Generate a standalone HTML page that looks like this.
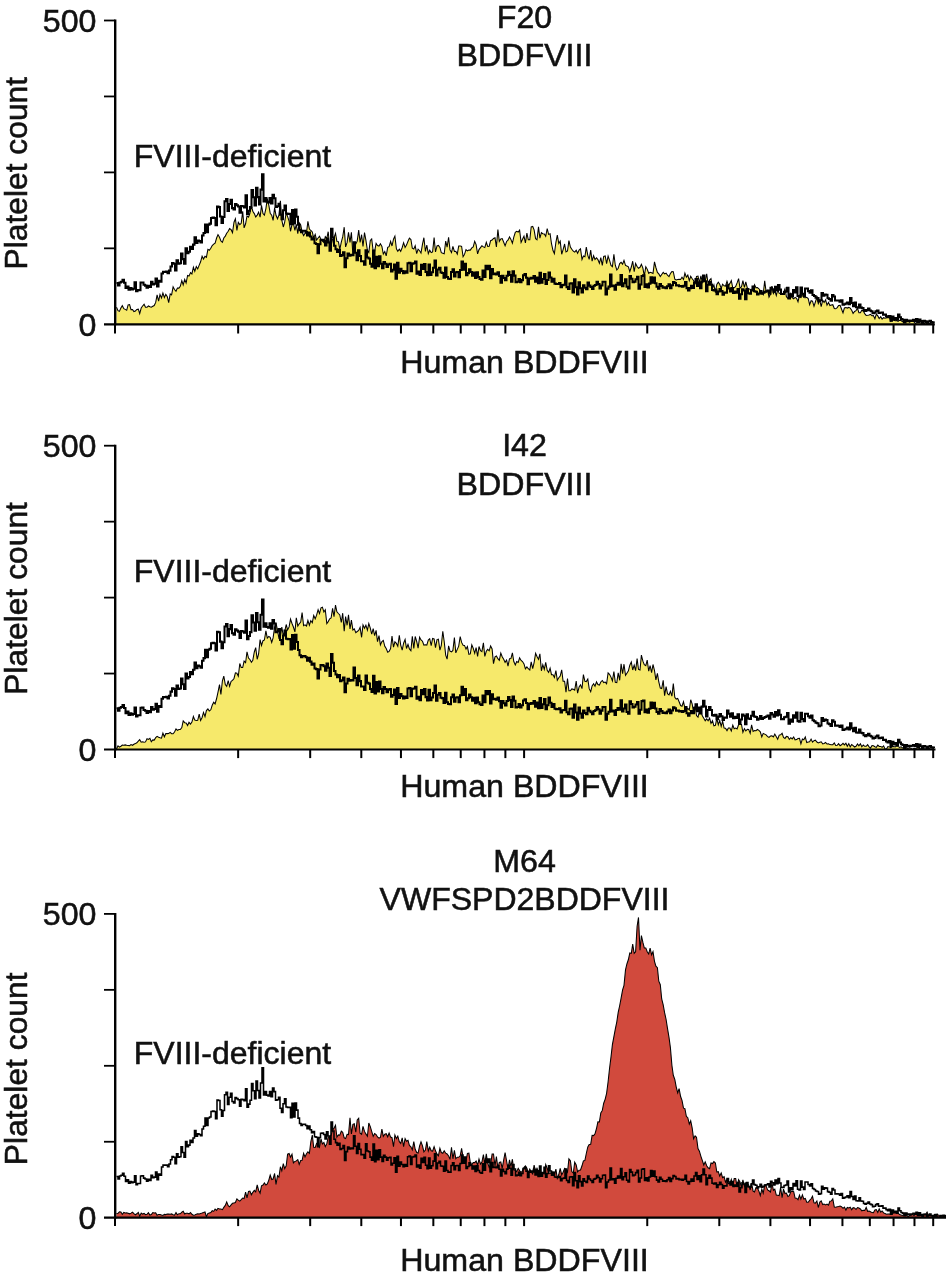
<!DOCTYPE html>
<html lang="en">
<head>
<meta charset="utf-8">
<title>Platelet BDDFVIII flow cytometry histograms</title>
<style>
html,body{margin:0;padding:0;background:#fff;}
body{width:946px;height:1278px;overflow:hidden;}
svg{display:block;will-change:transform;opacity:0.999;}
svg text{font-family:"Liberation Sans", Arial, Helvetica, sans-serif;font-size:32.2px;fill:#111;stroke:#111;stroke-width:0.55px;}
</style>
</head>
<body>
<svg width="946" height="1278" viewBox="0 0 946 1278">
<rect width="946" height="1278" fill="#fff"/>
<g id="panel1">
<path d="M116.5 307.3L118.0 310.7L119.4 311.4L120.9 308.1L122.3 305.7L123.8 308.7L125.2 309.4L126.7 310.3L128.1 304.9L129.6 304.6L131.0 309.6L132.5 309.5L133.9 311.6L135.4 311.0L136.8 309.4L138.3 309.2L139.7 313.7L141.2 308.0L142.6 306.0L144.1 304.3L145.5 307.2L147.0 307.3L148.4 306.0L149.9 306.8L151.3 307.2L152.8 306.3L154.2 305.5L155.7 302.4L157.1 294.9L158.6 301.1L160.0 294.4L161.5 298.0L162.9 293.0L164.4 297.5L165.8 294.3L167.3 296.8L168.7 302.7L170.2 293.9L171.6 294.9L173.1 286.8L174.5 289.5L176.0 291.2L177.4 288.0L178.9 288.1L180.3 286.3L181.8 280.7L183.2 285.0L184.7 279.4L186.1 283.0L187.6 275.5L189.0 276.1L190.5 272.6L191.9 273.9L193.4 267.2L194.8 271.4L196.3 266.6L197.7 268.9L199.2 265.1L200.6 261.8L202.1 256.3L203.5 259.1L205.0 256.3L206.4 257.3L207.9 249.4L209.3 250.3L210.8 248.2L212.2 245.6L213.7 244.2L215.1 243.1L216.6 238.0L218.0 234.6L219.5 237.3L220.9 241.0L222.4 242.3L223.8 238.0L225.3 236.1L226.7 233.2L228.2 231.3L229.6 228.5L231.1 229.7L232.5 232.7L234.0 222.2L235.4 218.7L236.9 230.4L238.3 222.4L239.8 224.6L241.2 223.3L242.7 211.2L244.1 227.9L245.6 223.8L247.0 215.9L248.5 217.2L249.9 213.3L251.4 206.0L252.8 211.2L254.3 213.6L255.7 216.9L257.2 215.1L258.6 212.2L260.1 217.2L261.5 205.4L263.0 213.5L264.4 215.2L265.9 208.6L267.3 198.6L268.8 205.2L270.2 213.2L271.7 215.2L273.1 220.4L274.6 207.7L276.0 215.3L277.5 218.8L278.9 215.2L280.4 200.7L281.8 220.2L283.3 227.0L284.7 222.1L286.2 212.5L287.6 216.6L289.1 221.0L290.5 231.3L292.0 224.5L293.4 223.4L294.9 230.4L296.3 224.4L297.8 233.6L299.2 222.7L300.7 225.0L302.1 232.0L303.6 235.6L305.0 233.4L306.5 232.9L307.9 221.3L309.4 229.0L310.8 230.5L312.3 231.9L313.7 238.0L315.2 234.4L316.6 240.1L318.1 238.0L319.5 236.3L321.0 239.4L322.4 240.8L323.9 242.6L325.3 236.6L326.8 238.3L328.2 231.7L329.7 246.0L331.1 245.6L332.6 239.2L334.0 237.6L335.5 233.3L336.9 241.4L338.4 241.7L339.8 249.4L341.3 242.2L342.7 236.9L344.2 227.2L345.6 246.9L347.1 242.4L348.5 232.3L350.0 242.4L351.4 232.4L352.9 254.9L354.3 246.1L355.8 244.1L357.2 241.1L358.7 230.1L360.1 242.5L361.6 234.7L363.0 246.5L364.5 232.5L365.9 240.2L367.4 250.4L368.8 252.5L370.3 240.4L371.7 238.9L373.2 251.2L374.6 251.5L376.1 243.4L377.5 245.5L379.0 246.0L380.4 243.7L381.9 246.4L383.3 254.1L384.8 251.5L386.2 255.9L387.7 247.4L389.1 246.6L390.6 241.3L392.0 246.0L393.5 239.1L394.9 236.2L396.4 248.8L397.8 251.3L399.3 249.2L400.7 251.3L402.2 247.5L403.6 242.7L405.1 247.4L406.5 245.1L408.0 241.2L409.4 238.1L410.9 239.5L412.3 248.1L413.8 248.9L415.2 245.8L416.7 253.7L418.1 249.2L419.6 250.7L421.0 253.1L422.5 244.1L423.9 237.7L425.4 251.5L426.8 245.0L428.3 253.6L429.7 250.2L431.2 252.6L432.6 251.9L434.1 237.6L435.5 252.0L437.0 245.8L438.4 245.4L439.9 247.4L441.3 252.7L442.8 253.2L444.2 253.8L445.7 241.1L447.1 247.1L448.6 237.3L450.0 249.9L451.5 252.6L452.9 246.3L454.4 251.4L455.8 251.3L457.3 254.1L458.7 245.9L460.2 245.9L461.6 246.3L463.1 256.7L464.5 254.4L466.0 249.6L467.4 250.8L468.9 250.1L470.3 250.1L471.8 247.9L473.2 246.9L474.7 241.4L476.1 244.6L477.6 253.9L479.0 249.6L480.5 247.6L481.9 245.8L483.4 246.9L484.8 247.6L486.3 242.3L487.7 246.4L489.2 246.2L490.6 240.7L492.1 240.1L493.5 238.5L495.0 237.8L496.4 246.9L497.9 229.5L499.3 241.4L500.8 239.0L502.2 238.6L503.7 242.3L505.1 245.8L506.6 241.5L508.0 240.1L509.5 236.9L510.9 239.4L512.4 243.3L513.8 237.2L515.3 232.4L516.7 231.3L518.2 232.0L519.6 230.1L521.1 242.4L522.5 239.3L524.0 236.2L525.4 243.0L526.9 233.2L528.3 239.8L529.8 239.7L531.2 226.8L532.7 226.4L534.1 229.8L535.6 238.6L537.0 239.8L538.5 226.9L539.9 238.1L541.4 232.7L542.8 233.7L544.3 233.9L545.7 236.3L547.2 228.5L548.6 234.4L550.1 233.8L551.5 243.7L553.0 250.5L554.4 253.6L555.9 242.3L557.3 235.1L558.8 243.5L560.2 241.2L561.7 254.3L563.1 249.6L564.6 244.0L566.0 251.9L567.5 251.0L568.9 240.5L570.4 247.1L571.8 249.3L573.3 251.2L574.7 252.1L576.2 250.3L577.6 253.3L579.1 250.0L580.5 248.8L582.0 259.5L583.4 256.0L584.9 256.7L586.3 247.2L587.8 255.3L589.2 259.4L590.7 250.1L592.1 261.1L593.6 255.7L595.0 259.5L596.5 257.8L597.9 259.6L599.4 263.3L600.8 257.6L602.3 265.3L603.7 256.4L605.2 256.0L606.6 263.6L608.1 256.1L609.5 260.1L611.0 265.4L612.4 266.7L613.9 254.2L615.3 265.2L616.8 270.0L618.2 268.2L619.7 263.6L621.1 262.3L622.6 264.2L624.0 260.4L625.5 265.3L626.9 266.1L628.4 266.8L629.8 271.6L631.3 267.0L632.7 261.2L634.2 271.7L635.6 263.4L637.1 266.5L638.5 268.2L640.0 267.3L641.4 264.3L642.9 268.1L644.3 276.2L645.8 266.7L647.2 269.1L648.7 273.3L650.1 272.3L651.6 272.8L653.0 273.4L654.5 261.9L655.9 267.5L657.4 272.4L658.8 273.9L660.3 276.6L661.7 274.5L663.2 272.4L664.6 273.9L666.1 273.2L667.5 275.2L669.0 276.7L670.4 273.5L671.9 271.6L673.3 271.7L674.8 279.1L676.2 279.9L677.7 279.4L679.1 279.3L680.6 279.5L682.0 277.3L683.5 279.5L684.9 273.2L686.4 277.2L687.8 275.1L689.3 280.7L690.7 276.3L692.2 278.7L693.6 280.5L695.1 283.4L696.5 276.5L698.0 276.1L699.4 282.7L700.9 275.9L702.3 282.2L703.8 278.7L705.2 281.0L706.7 273.9L708.1 283.9L709.6 280.1L711.0 278.7L712.5 288.3L713.9 284.9L715.4 292.6L716.8 284.5L718.3 282.2L719.7 284.2L721.2 288.4L722.6 284.2L724.1 285.8L725.5 286.2L727.0 281.3L728.4 285.6L729.9 283.4L731.3 280.6L732.8 288.2L734.2 287.8L735.7 286.5L737.1 282.9L738.6 278.7L740.0 288.2L741.5 286.8L742.9 280.7L744.4 287.4L745.8 281.8L747.3 287.9L748.7 288.6L750.2 289.4L751.6 289.2L753.1 289.3L754.5 284.7L756.0 287.8L757.4 287.5L758.9 288.8L760.3 290.6L761.8 291.7L763.2 294.4L764.7 280.8L766.1 291.9L767.6 290.5L769.0 297.1L770.5 294.1L771.9 286.1L773.4 293.5L774.8 290.9L776.3 295.5L777.7 289.6L779.2 293.4L780.6 293.7L782.1 294.2L783.5 292.8L785.0 288.8L786.4 296.7L787.9 298.3L789.3 296.2L790.8 293.3L792.2 297.7L793.7 298.8L795.1 297.4L796.6 298.3L798.0 301.7L799.5 295.3L800.9 297.4L802.4 293.3L803.8 297.6L805.3 297.7L806.7 297.3L808.2 298.5L809.6 304.7L811.1 300.7L812.5 301.2L814.0 306.3L815.4 302.0L816.9 297.1L818.3 303.6L819.8 300.3L821.2 306.7L822.7 300.2L824.1 302.5L825.6 299.9L827.0 305.2L828.5 302.4L829.9 305.5L831.4 305.0L832.8 304.7L834.3 308.5L835.7 308.8L837.2 307.6L838.6 305.4L840.1 305.3L841.5 309.0L843.0 312.9L844.4 308.0L845.9 307.5L847.3 308.1L848.8 307.4L850.2 308.1L851.7 310.3L853.1 313.4L854.6 311.5L856.0 310.6L857.5 308.3L858.9 312.7L860.4 312.7L861.8 310.2L863.3 310.9L864.7 313.6L866.2 315.4L867.6 315.2L869.1 314.9L870.5 314.3L872.0 315.8L873.4 315.6L874.9 318.8L876.3 314.1L877.8 315.9L879.2 318.5L880.7 316.7L882.1 319.1L883.6 317.7L885.0 318.2L886.5 317.7L887.9 316.3L889.4 317.3L890.8 321.4L892.3 320.0L893.7 320.2L895.2 320.8L896.6 320.6L898.1 321.3L899.5 320.2L901.0 320.5L902.4 321.9L903.9 320.7L905.3 319.7L906.8 321.2L908.2 321.0L909.7 322.3L911.1 321.2L912.6 321.0L914.0 321.9L915.5 323.5L916.9 322.5L918.4 322.8L919.8 322.8L921.3 323.1L922.7 323.6L924.2 324.0L925.6 322.0L927.1 324.1L928.5 323.5L930.0 323.4L931.4 324.1L932.9 323.7L934.3 324.1L934.3 324.3L116.5 324.3Z" fill="#f6e96b" stroke="none"/>
<path d="M116.5 307.3L118.0 310.7L119.4 311.4L120.9 308.1L122.3 305.7L123.8 308.7L125.2 309.4L126.7 310.3L128.1 304.9L129.6 304.6L131.0 309.6L132.5 309.5L133.9 311.6L135.4 311.0L136.8 309.4L138.3 309.2L139.7 313.7L141.2 308.0L142.6 306.0L144.1 304.3L145.5 307.2L147.0 307.3L148.4 306.0L149.9 306.8L151.3 307.2L152.8 306.3L154.2 305.5L155.7 302.4L157.1 294.9L158.6 301.1L160.0 294.4L161.5 298.0L162.9 293.0L164.4 297.5L165.8 294.3L167.3 296.8L168.7 302.7L170.2 293.9L171.6 294.9L173.1 286.8L174.5 289.5L176.0 291.2L177.4 288.0L178.9 288.1L180.3 286.3L181.8 280.7L183.2 285.0L184.7 279.4L186.1 283.0L187.6 275.5L189.0 276.1L190.5 272.6L191.9 273.9L193.4 267.2L194.8 271.4L196.3 266.6L197.7 268.9L199.2 265.1L200.6 261.8L202.1 256.3L203.5 259.1L205.0 256.3L206.4 257.3L207.9 249.4L209.3 250.3L210.8 248.2L212.2 245.6L213.7 244.2L215.1 243.1L216.6 238.0L218.0 234.6L219.5 237.3L220.9 241.0L222.4 242.3L223.8 238.0L225.3 236.1L226.7 233.2L228.2 231.3L229.6 228.5L231.1 229.7L232.5 232.7L234.0 222.2L235.4 218.7L236.9 230.4L238.3 222.4L239.8 224.6L241.2 223.3L242.7 211.2L244.1 227.9L245.6 223.8L247.0 215.9L248.5 217.2L249.9 213.3L251.4 206.0L252.8 211.2L254.3 213.6L255.7 216.9L257.2 215.1L258.6 212.2L260.1 217.2L261.5 205.4L263.0 213.5L264.4 215.2L265.9 208.6L267.3 198.6L268.8 205.2L270.2 213.2L271.7 215.2L273.1 220.4L274.6 207.7L276.0 215.3L277.5 218.8L278.9 215.2L280.4 200.7L281.8 220.2L283.3 227.0L284.7 222.1L286.2 212.5L287.6 216.6L289.1 221.0L290.5 231.3L292.0 224.5L293.4 223.4L294.9 230.4L296.3 224.4L297.8 233.6L299.2 222.7L300.7 225.0L302.1 232.0L303.6 235.6L305.0 233.4L306.5 232.9L307.9 221.3L309.4 229.0L310.8 230.5L312.3 231.9L313.7 238.0L315.2 234.4L316.6 240.1L318.1 238.0L319.5 236.3L321.0 239.4L322.4 240.8L323.9 242.6L325.3 236.6L326.8 238.3L328.2 231.7L329.7 246.0L331.1 245.6L332.6 239.2L334.0 237.6L335.5 233.3L336.9 241.4L338.4 241.7L339.8 249.4L341.3 242.2L342.7 236.9L344.2 227.2L345.6 246.9L347.1 242.4L348.5 232.3L350.0 242.4L351.4 232.4L352.9 254.9L354.3 246.1L355.8 244.1L357.2 241.1L358.7 230.1L360.1 242.5L361.6 234.7L363.0 246.5L364.5 232.5L365.9 240.2L367.4 250.4L368.8 252.5L370.3 240.4L371.7 238.9L373.2 251.2L374.6 251.5L376.1 243.4L377.5 245.5L379.0 246.0L380.4 243.7L381.9 246.4L383.3 254.1L384.8 251.5L386.2 255.9L387.7 247.4L389.1 246.6L390.6 241.3L392.0 246.0L393.5 239.1L394.9 236.2L396.4 248.8L397.8 251.3L399.3 249.2L400.7 251.3L402.2 247.5L403.6 242.7L405.1 247.4L406.5 245.1L408.0 241.2L409.4 238.1L410.9 239.5L412.3 248.1L413.8 248.9L415.2 245.8L416.7 253.7L418.1 249.2L419.6 250.7L421.0 253.1L422.5 244.1L423.9 237.7L425.4 251.5L426.8 245.0L428.3 253.6L429.7 250.2L431.2 252.6L432.6 251.9L434.1 237.6L435.5 252.0L437.0 245.8L438.4 245.4L439.9 247.4L441.3 252.7L442.8 253.2L444.2 253.8L445.7 241.1L447.1 247.1L448.6 237.3L450.0 249.9L451.5 252.6L452.9 246.3L454.4 251.4L455.8 251.3L457.3 254.1L458.7 245.9L460.2 245.9L461.6 246.3L463.1 256.7L464.5 254.4L466.0 249.6L467.4 250.8L468.9 250.1L470.3 250.1L471.8 247.9L473.2 246.9L474.7 241.4L476.1 244.6L477.6 253.9L479.0 249.6L480.5 247.6L481.9 245.8L483.4 246.9L484.8 247.6L486.3 242.3L487.7 246.4L489.2 246.2L490.6 240.7L492.1 240.1L493.5 238.5L495.0 237.8L496.4 246.9L497.9 229.5L499.3 241.4L500.8 239.0L502.2 238.6L503.7 242.3L505.1 245.8L506.6 241.5L508.0 240.1L509.5 236.9L510.9 239.4L512.4 243.3L513.8 237.2L515.3 232.4L516.7 231.3L518.2 232.0L519.6 230.1L521.1 242.4L522.5 239.3L524.0 236.2L525.4 243.0L526.9 233.2L528.3 239.8L529.8 239.7L531.2 226.8L532.7 226.4L534.1 229.8L535.6 238.6L537.0 239.8L538.5 226.9L539.9 238.1L541.4 232.7L542.8 233.7L544.3 233.9L545.7 236.3L547.2 228.5L548.6 234.4L550.1 233.8L551.5 243.7L553.0 250.5L554.4 253.6L555.9 242.3L557.3 235.1L558.8 243.5L560.2 241.2L561.7 254.3L563.1 249.6L564.6 244.0L566.0 251.9L567.5 251.0L568.9 240.5L570.4 247.1L571.8 249.3L573.3 251.2L574.7 252.1L576.2 250.3L577.6 253.3L579.1 250.0L580.5 248.8L582.0 259.5L583.4 256.0L584.9 256.7L586.3 247.2L587.8 255.3L589.2 259.4L590.7 250.1L592.1 261.1L593.6 255.7L595.0 259.5L596.5 257.8L597.9 259.6L599.4 263.3L600.8 257.6L602.3 265.3L603.7 256.4L605.2 256.0L606.6 263.6L608.1 256.1L609.5 260.1L611.0 265.4L612.4 266.7L613.9 254.2L615.3 265.2L616.8 270.0L618.2 268.2L619.7 263.6L621.1 262.3L622.6 264.2L624.0 260.4L625.5 265.3L626.9 266.1L628.4 266.8L629.8 271.6L631.3 267.0L632.7 261.2L634.2 271.7L635.6 263.4L637.1 266.5L638.5 268.2L640.0 267.3L641.4 264.3L642.9 268.1L644.3 276.2L645.8 266.7L647.2 269.1L648.7 273.3L650.1 272.3L651.6 272.8L653.0 273.4L654.5 261.9L655.9 267.5L657.4 272.4L658.8 273.9L660.3 276.6L661.7 274.5L663.2 272.4L664.6 273.9L666.1 273.2L667.5 275.2L669.0 276.7L670.4 273.5L671.9 271.6L673.3 271.7L674.8 279.1L676.2 279.9L677.7 279.4L679.1 279.3L680.6 279.5L682.0 277.3L683.5 279.5L684.9 273.2L686.4 277.2L687.8 275.1L689.3 280.7L690.7 276.3L692.2 278.7L693.6 280.5L695.1 283.4L696.5 276.5L698.0 276.1L699.4 282.7L700.9 275.9L702.3 282.2L703.8 278.7L705.2 281.0L706.7 273.9L708.1 283.9L709.6 280.1L711.0 278.7L712.5 288.3L713.9 284.9L715.4 292.6L716.8 284.5L718.3 282.2L719.7 284.2L721.2 288.4L722.6 284.2L724.1 285.8L725.5 286.2L727.0 281.3L728.4 285.6L729.9 283.4L731.3 280.6L732.8 288.2L734.2 287.8L735.7 286.5L737.1 282.9L738.6 278.7L740.0 288.2L741.5 286.8L742.9 280.7L744.4 287.4L745.8 281.8L747.3 287.9L748.7 288.6L750.2 289.4L751.6 289.2L753.1 289.3L754.5 284.7L756.0 287.8L757.4 287.5L758.9 288.8L760.3 290.6L761.8 291.7L763.2 294.4L764.7 280.8L766.1 291.9L767.6 290.5L769.0 297.1L770.5 294.1L771.9 286.1L773.4 293.5L774.8 290.9L776.3 295.5L777.7 289.6L779.2 293.4L780.6 293.7L782.1 294.2L783.5 292.8L785.0 288.8L786.4 296.7L787.9 298.3L789.3 296.2L790.8 293.3L792.2 297.7L793.7 298.8L795.1 297.4L796.6 298.3L798.0 301.7L799.5 295.3L800.9 297.4L802.4 293.3L803.8 297.6L805.3 297.7L806.7 297.3L808.2 298.5L809.6 304.7L811.1 300.7L812.5 301.2L814.0 306.3L815.4 302.0L816.9 297.1L818.3 303.6L819.8 300.3L821.2 306.7L822.7 300.2L824.1 302.5L825.6 299.9L827.0 305.2L828.5 302.4L829.9 305.5L831.4 305.0L832.8 304.7L834.3 308.5L835.7 308.8L837.2 307.6L838.6 305.4L840.1 305.3L841.5 309.0L843.0 312.9L844.4 308.0L845.9 307.5L847.3 308.1L848.8 307.4L850.2 308.1L851.7 310.3L853.1 313.4L854.6 311.5L856.0 310.6L857.5 308.3L858.9 312.7L860.4 312.7L861.8 310.2L863.3 310.9L864.7 313.6L866.2 315.4L867.6 315.2L869.1 314.9L870.5 314.3L872.0 315.8L873.4 315.6L874.9 318.8L876.3 314.1L877.8 315.9L879.2 318.5L880.7 316.7L882.1 319.1L883.6 317.7L885.0 318.2L886.5 317.7L887.9 316.3L889.4 317.3L890.8 321.4L892.3 320.0L893.7 320.2L895.2 320.8L896.6 320.6L898.1 321.3L899.5 320.2L901.0 320.5L902.4 321.9L903.9 320.7L905.3 319.7L906.8 321.2L908.2 321.0L909.7 322.3L911.1 321.2L912.6 321.0L914.0 321.9L915.5 323.5L916.9 322.5L918.4 322.8L919.8 322.8L921.3 323.1L922.7 323.6L924.2 324.0L925.6 322.0L927.1 324.1L928.5 323.5L930.0 323.4L931.4 324.1L932.9 323.7L934.3 324.1" fill="none" stroke="#000" stroke-width="1.05" stroke-linejoin="miter"/>
<path d="M116.5 283.0L118.0 283.0L118.0 285.5L119.5 285.5L119.5 282.5L121.0 282.5L121.0 281.8L122.5 281.8L122.5 279.8L124.0 279.8L124.0 282.8L125.5 282.8L125.5 288.0L127.0 288.0L127.0 286.4L128.5 286.4L128.5 289.7L130.0 289.7L130.0 288.1L131.5 288.1L131.5 289.4L133.0 289.4L133.0 288.7L134.5 288.7L134.5 282.3L136.0 282.3L136.0 291.2L137.5 291.2L137.5 290.1L139.0 290.1L139.0 290.1L140.5 290.1L140.5 282.5L142.0 282.5L142.0 282.4L143.5 282.4L143.5 284.7L145.0 284.7L145.0 285.6L146.5 285.6L146.5 287.7L148.0 287.7L148.0 285.8L149.5 285.8L149.5 287.0L151.0 287.0L151.0 281.8L152.5 281.8L152.5 284.4L154.0 284.4L154.0 283.7L155.5 283.7L155.5 278.5L157.0 278.5L157.0 286.4L158.5 286.4L158.5 280.7L160.0 280.7L160.0 281.8L161.5 281.8L161.5 273.5L163.0 273.5L163.0 271.7L164.5 271.7L164.5 271.9L166.0 271.9L166.0 271.5L167.5 271.5L167.5 273.3L169.0 273.3L169.0 270.6L170.5 270.6L170.5 266.4L172.0 266.4L172.0 263.1L173.5 263.1L173.5 263.8L175.0 263.8L175.0 270.4L176.5 270.4L176.5 260.3L178.0 260.3L178.0 263.8L179.5 263.8L179.5 263.3L181.0 263.3L181.0 253.4L182.5 253.4L182.5 259.1L184.0 259.1L184.0 263.7L185.5 263.7L185.5 248.2L187.0 248.2L187.0 253.3L188.5 253.3L188.5 251.7L190.0 251.7L190.0 246.8L191.5 246.8L191.5 249.0L193.0 249.0L193.0 244.6L194.5 244.6L194.5 237.2L196.0 237.2L196.0 242.9L197.5 242.9L197.5 240.4L199.0 240.4L199.0 241.1L200.5 241.1L200.5 242.4L202.0 242.4L202.0 235.5L203.5 235.5L203.5 232.9L205.0 232.9L205.0 224.6L206.5 224.6L206.5 232.1L208.0 232.1L208.0 224.6L209.5 224.6L209.5 223.6L211.0 223.6L211.0 218.0L212.5 218.0L212.5 217.6L214.0 217.6L214.0 218.0L215.5 218.0L215.5 225.2L217.0 225.2L217.0 206.5L218.5 206.5L218.5 207.1L220.0 207.1L220.0 216.4L221.5 216.4L221.5 222.9L223.0 222.9L223.0 217.0L224.5 217.0L224.5 201.3L226.0 201.3L226.0 198.9L227.5 198.9L227.5 211.0L229.0 211.0L229.0 203.9L230.5 203.9L230.5 199.8L232.0 199.8L232.0 208.1L233.5 208.1L233.5 209.5L235.0 209.5L235.0 204.1L236.5 204.1L236.5 205.2L238.0 205.2L238.0 206.4L239.5 206.4L239.5 212.8L241.0 212.8L241.0 205.9L242.5 205.9L242.5 206.2L244.0 206.2L244.0 207.4L245.5 207.4L245.5 195.3L247.0 195.3L247.0 213.9L248.5 213.9L248.5 210.7L250.0 210.7L250.0 206.9L251.5 206.9L251.5 190.1L253.0 190.1L253.0 197.3L254.5 197.3L254.5 205.4L256.0 205.4L256.0 187.7L257.5 187.7L257.5 197.1L259.0 197.1L259.0 204.5L260.5 204.5L260.5 189.6L262.0 189.6L262.0 174.3L263.5 174.3L263.5 201.5L265.0 201.5L265.0 198.0L266.5 198.0L266.5 201.7L268.0 201.7L268.0 202.5L269.5 202.5L269.5 198.0L271.0 198.0L271.0 203.4L272.5 203.4L272.5 194.7L274.0 194.7L274.0 198.2L275.5 198.2L275.5 206.9L277.0 206.9L277.0 206.3L278.5 206.3L278.5 203.8L280.0 203.8L280.0 214.8L281.5 214.8L281.5 219.1L283.0 219.1L283.0 210.3L284.5 210.3L284.5 205.4L286.0 205.4L286.0 213.5L287.5 213.5L287.5 214.0L289.0 214.0L289.0 213.8L290.5 213.8L290.5 224.3L292.0 224.3L292.0 209.9L293.5 209.9L293.5 223.5L295.0 223.5L295.0 209.6L296.5 209.6L296.5 216.7L298.0 216.7L298.0 224.7L299.5 224.7L299.5 230.1L301.0 230.1L301.0 232.1L302.5 232.1L302.5 230.8L304.0 230.8L304.0 230.8L305.5 230.8L305.5 232.0L307.0 232.0L307.0 235.4L308.5 235.4L308.5 232.6L310.0 232.6L310.0 236.4L311.5 236.4L311.5 239.4L313.0 239.4L313.0 238.2L314.5 238.2L314.5 243.3L316.0 243.3L316.0 243.9L317.5 243.9L317.5 253.3L319.0 253.3L319.0 244.2L320.5 244.2L320.5 239.9L322.0 239.9L322.0 239.7L323.5 239.7L323.5 241.0L325.0 241.0L325.0 245.5L326.5 245.5L326.5 238.4L328.0 238.4L328.0 242.5L329.5 242.5L329.5 250.8L331.0 250.8L331.0 228.7L332.5 228.7L332.5 237.5L334.0 237.5L334.0 245.8L335.5 245.8L335.5 249.2L337.0 249.2L337.0 251.9L338.5 251.9L338.5 249.8L340.0 249.8L340.0 256.0L341.5 256.0L341.5 255.1L343.0 255.1L343.0 252.2L344.5 252.2L344.5 267.1L346.0 267.1L346.0 258.2L347.5 258.2L347.5 253.6L349.0 253.6L349.0 255.6L350.5 255.6L350.5 254.7L352.0 254.7L352.0 255.3L353.5 255.3L353.5 242.3L355.0 242.3L355.0 252.8L356.5 252.8L356.5 260.1L358.0 260.1L358.0 250.2L359.5 250.2L359.5 255.9L361.0 255.9L361.0 261.2L362.5 261.2L362.5 261.2L364.0 261.2L364.0 264.7L365.5 264.7L365.5 250.3L367.0 250.3L367.0 257.5L368.5 257.5L368.5 258.4L370.0 258.4L370.0 263.7L371.5 263.7L371.5 266.7L373.0 266.7L373.0 250.5L374.5 250.5L374.5 268.3L376.0 268.3L376.0 256.8L377.5 256.8L377.5 266.3L379.0 266.3L379.0 256.3L380.5 256.3L380.5 263.7L382.0 263.7L382.0 268.1L383.5 268.1L383.5 261.9L385.0 261.9L385.0 263.7L386.5 263.7L386.5 266.9L388.0 266.9L388.0 264.4L389.5 264.4L389.5 263.8L391.0 263.8L391.0 271.5L392.5 271.5L392.5 269.8L394.0 269.8L394.0 264.4L395.5 264.4L395.5 278.7L397.0 278.7L397.0 262.8L398.5 262.8L398.5 272.7L400.0 272.7L400.0 268.7L401.5 268.7L401.5 271.0L403.0 271.0L403.0 273.3L404.5 273.3L404.5 271.2L406.0 271.2L406.0 272.8L407.5 272.8L407.5 263.3L409.0 263.3L409.0 262.7L410.5 262.7L410.5 271.1L412.0 271.1L412.0 263.6L413.5 263.6L413.5 263.2L415.0 263.2L415.0 261.5L416.5 261.5L416.5 273.6L418.0 273.6L418.0 271.6L419.5 271.6L419.5 274.9L421.0 274.9L421.0 264.8L422.5 264.8L422.5 269.0L424.0 269.0L424.0 263.9L425.5 263.9L425.5 271.9L427.0 271.9L427.0 275.3L428.5 275.3L428.5 264.5L430.0 264.5L430.0 274.9L431.5 274.9L431.5 272.3L433.0 272.3L433.0 267.7L434.5 267.7L434.5 260.4L436.0 260.4L436.0 275.4L437.5 275.4L437.5 269.5L439.0 269.5L439.0 267.8L440.5 267.8L440.5 272.5L442.0 272.5L442.0 272.9L443.5 272.9L443.5 277.8L445.0 277.8L445.0 267.6L446.5 267.6L446.5 277.0L448.0 277.0L448.0 278.7L449.5 278.7L449.5 278.9L451.0 278.9L451.0 272.0L452.5 272.0L452.5 269.3L454.0 269.3L454.0 276.4L455.5 276.4L455.5 272.3L457.0 272.3L457.0 272.0L458.5 272.0L458.5 277.1L460.0 277.1L460.0 270.0L461.5 270.0L461.5 261.6L463.0 261.6L463.0 269.7L464.5 269.7L464.5 263.7L466.0 263.7L466.0 275.1L467.5 275.1L467.5 273.1L469.0 273.1L469.0 269.3L470.5 269.3L470.5 272.0L472.0 272.0L472.0 275.6L473.5 275.6L473.5 272.6L475.0 272.6L475.0 278.0L476.5 278.0L476.5 272.3L478.0 272.3L478.0 277.0L479.5 277.0L479.5 279.0L481.0 279.0L481.0 279.7L482.5 279.7L482.5 270.4L484.0 270.4L484.0 276.9L485.5 276.9L485.5 265.7L487.0 265.7L487.0 269.1L488.5 269.1L488.5 265.7L490.0 265.7L490.0 278.3L491.5 278.3L491.5 269.0L493.0 269.0L493.0 274.1L494.5 274.1L494.5 273.6L496.0 273.6L496.0 274.4L497.5 274.4L497.5 272.3L499.0 272.3L499.0 275.9L500.5 275.9L500.5 282.6L502.0 282.6L502.0 275.8L503.5 275.8L503.5 278.0L505.0 278.0L505.0 280.2L506.5 280.2L506.5 275.7L508.0 275.7L508.0 271.8L509.5 271.8L509.5 274.9L511.0 274.9L511.0 281.7L512.5 281.7L512.5 271.2L514.0 271.2L514.0 275.6L515.5 275.6L515.5 282.3L517.0 282.3L517.0 281.7L518.5 281.7L518.5 278.9L520.0 278.9L520.0 282.3L521.5 282.3L521.5 280.1L523.0 280.1L523.0 275.2L524.5 275.2L524.5 274.0L526.0 274.0L526.0 277.8L527.5 277.8L527.5 284.1L529.0 284.1L529.0 278.7L530.5 278.7L530.5 277.7L532.0 277.7L532.0 278.5L533.5 278.5L533.5 275.9L535.0 275.9L535.0 281.6L536.5 281.6L536.5 277.4L538.0 277.4L538.0 283.1L539.5 283.1L539.5 272.7L541.0 272.7L541.0 282.8L542.5 282.8L542.5 279.0L544.0 279.0L544.0 273.9L545.5 273.9L545.5 283.9L547.0 283.9L547.0 280.0L548.5 280.0L548.5 272.4L550.0 272.4L550.0 277.5L551.5 277.5L551.5 281.8L553.0 281.8L553.0 278.8L554.5 278.8L554.5 283.6L556.0 283.6L556.0 283.9L557.5 283.9L557.5 284.0L559.0 284.0L559.0 283.1L560.5 283.1L560.5 287.2L562.0 287.2L562.0 285.1L563.5 285.1L563.5 284.7L565.0 284.7L565.0 275.6L566.5 275.6L566.5 287.1L568.0 287.1L568.0 289.0L569.5 289.0L569.5 283.5L571.0 283.5L571.0 283.3L572.5 283.3L572.5 292.4L574.0 292.4L574.0 279.2L575.5 279.2L575.5 287.3L577.0 287.3L577.0 294.4L578.5 294.4L578.5 282.3L580.0 282.3L580.0 288.2L581.5 288.2L581.5 292.5L583.0 292.5L583.0 285.3L584.5 285.3L584.5 287.8L586.0 287.8L586.0 289.1L587.5 289.1L587.5 282.6L589.0 282.6L589.0 285.6L590.5 285.6L590.5 287.0L592.0 287.0L592.0 289.0L593.5 289.0L593.5 285.7L595.0 285.7L595.0 285.0L596.5 285.0L596.5 281.8L598.0 281.8L598.0 284.1L599.5 284.1L599.5 288.5L601.0 288.5L601.0 285.4L602.5 285.4L602.5 281.8L604.0 281.8L604.0 281.7L605.5 281.7L605.5 294.4L607.0 294.4L607.0 288.6L608.5 288.6L608.5 286.6L610.0 286.6L610.0 274.5L611.5 274.5L611.5 286.2L613.0 286.2L613.0 285.4L614.5 285.4L614.5 289.7L616.0 289.7L616.0 284.8L617.5 284.8L617.5 282.7L619.0 282.7L619.0 284.6L620.5 284.6L620.5 275.1L622.0 275.1L622.0 286.2L623.5 286.2L623.5 283.3L625.0 283.3L625.0 279.3L626.5 279.3L626.5 286.8L628.0 286.8L628.0 288.5L629.5 288.5L629.5 276.1L631.0 276.1L631.0 278.7L632.5 278.7L632.5 282.2L634.0 282.2L634.0 281.6L635.5 281.6L635.5 279.2L637.0 279.2L637.0 276.8L638.5 276.8L638.5 288.6L640.0 288.6L640.0 284.5L641.5 284.5L641.5 275.9L643.0 275.9L643.0 275.3L644.5 275.3L644.5 287.0L646.0 287.0L646.0 284.3L647.5 284.3L647.5 287.5L649.0 287.5L649.0 283.6L650.5 283.6L650.5 277.2L652.0 277.2L652.0 282.7L653.5 282.7L653.5 277.5L655.0 277.5L655.0 283.3L656.5 283.3L656.5 286.7L658.0 286.7L658.0 288.6L659.5 288.6L659.5 283.9L661.0 283.9L661.0 285.9L662.5 285.9L662.5 287.8L664.0 287.8L664.0 287.3L665.5 287.3L665.5 288.1L667.0 288.1L667.0 286.3L668.5 286.3L668.5 284.2L670.0 284.2L670.0 288.1L671.5 288.1L671.5 285.2L673.0 285.2L673.0 282.1L674.5 282.1L674.5 283.0L676.0 283.0L676.0 285.5L677.5 285.5L677.5 285.2L679.0 285.2L679.0 286.3L680.5 286.3L680.5 285.9L682.0 285.9L682.0 286.7L683.5 286.7L683.5 285.8L685.0 285.8L685.0 281.9L686.5 281.9L686.5 288.1L688.0 288.1L688.0 290.5L689.5 290.5L689.5 288.1L691.0 288.1L691.0 285.7L692.5 285.7L692.5 287.9L694.0 287.9L694.0 282.6L695.5 282.6L695.5 279.1L697.0 279.1L697.0 286.0L698.5 286.0L698.5 282.3L700.0 282.3L700.0 288.2L701.5 288.2L701.5 281.4L703.0 281.4L703.0 275.6L704.5 275.6L704.5 281.3L706.0 281.3L706.0 291.2L707.5 291.2L707.5 284.7L709.0 284.7L709.0 281.9L710.5 281.9L710.5 284.7L712.0 284.7L712.0 289.9L713.5 289.9L713.5 290.5L715.0 290.5L715.0 289.6L716.5 289.6L716.5 294.1L718.0 294.1L718.0 291.4L719.5 291.4L719.5 288.9L721.0 288.9L721.0 291.1L722.5 291.1L722.5 294.7L724.0 294.7L724.0 292.4L725.5 292.4L725.5 292.6L727.0 292.6L727.0 285.2L728.5 285.2L728.5 288.5L730.0 288.5L730.0 291.5L731.5 291.5L731.5 288.1L733.0 288.1L733.0 293.0L734.5 293.0L734.5 291.5L736.0 291.5L736.0 292.7L737.5 292.7L737.5 289.0L739.0 289.0L739.0 298.6L740.5 298.6L740.5 294.3L742.0 294.3L742.0 289.3L743.5 289.3L743.5 290.5L745.0 290.5L745.0 299.1L746.5 299.1L746.5 289.1L748.0 289.1L748.0 293.3L749.5 293.3L749.5 293.7L751.0 293.7L751.0 290.5L752.5 290.5L752.5 286.5L754.0 286.5L754.0 291.2L755.5 291.2L755.5 291.8L757.0 291.8L757.0 294.5L758.5 294.5L758.5 293.4L760.0 293.4L760.0 290.9L761.5 290.9L761.5 293.8L763.0 293.8L763.0 292.8L764.5 292.8L764.5 291.7L766.0 291.7L766.0 291.3L767.5 291.3L767.5 290.4L769.0 290.4L769.0 293.6L770.5 293.6L770.5 287.8L772.0 287.8L772.0 289.3L773.5 289.3L773.5 291.6L775.0 291.6L775.0 286.7L776.5 286.7L776.5 290.3L778.0 290.3L778.0 285.1L779.5 285.1L779.5 289.6L781.0 289.6L781.0 293.9L782.5 293.9L782.5 294.0L784.0 294.0L784.0 292.0L785.5 292.0L785.5 291.5L787.0 291.5L787.0 287.7L788.5 287.7L788.5 298.5L790.0 298.5L790.0 294.3L791.5 294.3L791.5 296.4L793.0 296.4L793.0 290.0L794.5 290.0L794.5 292.5L796.0 292.5L796.0 287.3L797.5 287.3L797.5 295.9L799.0 295.9L799.0 296.6L800.5 296.6L800.5 287.5L802.0 287.5L802.0 293.7L803.5 293.7L803.5 296.0L805.0 296.0L805.0 288.5L806.5 288.5L806.5 288.5L808.0 288.5L808.0 291.1L809.5 291.1L809.5 292.6L811.0 292.6L811.0 290.3L812.5 290.3L812.5 295.0L814.0 295.0L814.0 296.0L815.5 296.0L815.5 297.6L817.0 297.6L817.0 298.1L818.5 298.1L818.5 300.9L820.0 300.9L820.0 300.2L821.5 300.2L821.5 292.9L823.0 292.9L823.0 295.7L824.5 295.7L824.5 294.4L826.0 294.4L826.0 294.7L827.5 294.7L827.5 298.2L829.0 298.2L829.0 298.9L830.5 298.9L830.5 300.7L832.0 300.7L832.0 295.1L833.5 295.1L833.5 296.5L835.0 296.5L835.0 300.5L836.5 300.5L836.5 300.4L838.0 300.4L838.0 300.5L839.5 300.5L839.5 301.7L841.0 301.7L841.0 300.2L842.5 300.2L842.5 304.7L844.0 304.7L844.0 304.2L845.5 304.2L845.5 303.5L847.0 303.5L847.0 302.4L848.5 302.4L848.5 304.2L850.0 304.2L850.0 298.0L851.5 298.0L851.5 303.0L853.0 303.0L853.0 306.1L854.5 306.1L854.5 302.6L856.0 302.6L856.0 307.3L857.5 307.3L857.5 307.6L859.0 307.6L859.0 304.4L860.5 304.4L860.5 307.6L862.0 307.6L862.0 307.9L863.5 307.9L863.5 310.1L865.0 310.1L865.0 310.9L866.5 310.9L866.5 309.9L868.0 309.9L868.0 308.5L869.5 308.5L869.5 310.5L871.0 310.5L871.0 311.2L872.5 311.2L872.5 313.3L874.0 313.3L874.0 312.8L875.5 312.8L875.5 311.2L877.0 311.2L877.0 310.4L878.5 310.4L878.5 312.9L880.0 312.9L880.0 312.7L881.5 312.7L881.5 312.4L883.0 312.4L883.0 314.8L884.5 314.8L884.5 314.6L886.0 314.6L886.0 316.2L887.5 316.2L887.5 317.2L889.0 317.2L889.0 315.9L890.5 315.9L890.5 320.8L892.0 320.8L892.0 316.6L893.5 316.6L893.5 319.2L895.0 319.2L895.0 317.9L896.5 317.9L896.5 319.8L898.0 319.8L898.0 314.6L899.5 314.6L899.5 317.3L901.0 317.3L901.0 319.0L902.5 319.0L902.5 319.7L904.0 319.7L904.0 322.4L905.5 322.4L905.5 319.7L907.0 319.7L907.0 321.2L908.5 321.2L908.5 320.6L910.0 320.6L910.0 321.0L911.5 321.0L911.5 320.6L913.0 320.6L913.0 319.8L914.5 319.8L914.5 320.9L916.0 320.9L916.0 318.9L917.5 318.9L917.5 322.0L919.0 322.0L919.0 319.4L920.5 319.4L920.5 321.1L922.0 321.1L922.0 323.5L923.5 323.5L923.5 320.8L925.0 320.8L925.0 321.2L926.5 321.2L926.5 322.7L928.0 322.7L928.0 321.5L929.5 321.5L929.5 320.7L931.0 320.7L931.0 322.0L932.5 322.0L932.5 322.4L934.0 322.4L934.0 322.7" fill="none" stroke="#000" stroke-width="2.05" stroke-linejoin="miter"/>
<line x1="115.2" y1="19.55" x2="115.2" y2="325.30" stroke="#000" stroke-width="2.4"/>
<line x1="104" y1="324.30" x2="934.8" y2="324.30" stroke="#000" stroke-width="2.2"/>
<line x1="104" y1="20.50" x2="115.2" y2="20.50" stroke="#000" stroke-width="1.8"/>
<line x1="104" y1="96.45" x2="115.2" y2="96.45" stroke="#000" stroke-width="1.8"/>
<line x1="104" y1="172.40" x2="115.2" y2="172.40" stroke="#000" stroke-width="1.8"/>
<line x1="104" y1="248.35" x2="115.2" y2="248.35" stroke="#000" stroke-width="1.8"/>
<line x1="115.00" y1="324.30" x2="115.00" y2="333.50" stroke="#000" stroke-width="2"/>
<line x1="238.15" y1="324.30" x2="238.15" y2="333.50" stroke="#000" stroke-width="2"/>
<line x1="310.19" y1="324.30" x2="310.19" y2="333.50" stroke="#000" stroke-width="2"/>
<line x1="361.30" y1="324.30" x2="361.30" y2="333.50" stroke="#000" stroke-width="2"/>
<line x1="400.95" y1="324.30" x2="400.95" y2="333.50" stroke="#000" stroke-width="2"/>
<line x1="433.34" y1="324.30" x2="433.34" y2="333.50" stroke="#000" stroke-width="2"/>
<line x1="460.73" y1="324.30" x2="460.73" y2="333.50" stroke="#000" stroke-width="2"/>
<line x1="484.45" y1="324.30" x2="484.45" y2="333.50" stroke="#000" stroke-width="2"/>
<line x1="505.38" y1="324.30" x2="505.38" y2="333.50" stroke="#000" stroke-width="2"/>
<line x1="524.10" y1="324.30" x2="524.10" y2="333.50" stroke="#000" stroke-width="2"/>
<line x1="647.25" y1="324.30" x2="647.25" y2="333.50" stroke="#000" stroke-width="2"/>
<line x1="719.29" y1="324.30" x2="719.29" y2="333.50" stroke="#000" stroke-width="2"/>
<line x1="770.40" y1="324.30" x2="770.40" y2="333.50" stroke="#000" stroke-width="2"/>
<line x1="810.05" y1="324.30" x2="810.05" y2="333.50" stroke="#000" stroke-width="2"/>
<line x1="842.44" y1="324.30" x2="842.44" y2="333.50" stroke="#000" stroke-width="2"/>
<line x1="869.83" y1="324.30" x2="869.83" y2="333.50" stroke="#000" stroke-width="2"/>
<line x1="893.55" y1="324.30" x2="893.55" y2="333.50" stroke="#000" stroke-width="2"/>
<line x1="914.48" y1="324.30" x2="914.48" y2="333.50" stroke="#000" stroke-width="2"/>
<line x1="933.20" y1="324.30" x2="933.20" y2="333.50" stroke="#000" stroke-width="2"/>
<text x="96.5" y="32.4" text-anchor="end">500</text>
<text x="96.5" y="336.2" text-anchor="end">0</text>
<text x="524.5" y="27.6" text-anchor="middle">F20</text>
<text x="524.5" y="65.9" text-anchor="middle" style="font-size:32.2px">BDDFVIII</text>
<text x="133.8" y="166.7" style="font-size:32px">FVIII-deficient</text>
<text x="524.5" y="373.0" text-anchor="middle">Human BDDFVIII</text>
<text transform="translate(26.7 173.2) rotate(-90)" text-anchor="middle" style="font-size:31.8px">Platelet count</text>
</g>
<g id="panel2">
<path d="M116.5 748.9L118.0 745.8L119.4 747.1L120.9 746.2L122.3 745.1L123.8 745.2L125.2 744.9L126.7 745.2L128.1 745.4L129.6 745.7L131.0 744.6L132.5 745.3L133.9 744.3L135.4 743.6L136.8 742.8L138.3 741.2L139.7 739.7L141.2 742.2L142.6 741.7L144.1 742.2L145.5 741.9L147.0 738.8L148.4 739.5L149.9 738.4L151.3 741.8L152.8 739.9L154.2 740.1L155.7 737.7L157.1 736.3L158.6 737.2L160.0 737.7L161.5 738.1L162.9 733.2L164.4 736.8L165.8 733.5L167.3 733.6L168.7 733.4L170.2 732.4L171.6 733.7L173.1 733.8L174.5 732.0L176.0 728.9L177.4 730.4L178.9 729.5L180.3 729.5L181.8 727.5L183.2 720.9L184.7 722.7L186.1 722.9L187.6 725.5L189.0 722.3L190.5 724.1L191.9 722.1L193.4 716.5L194.8 720.1L196.3 720.5L197.7 720.3L199.2 714.1L200.6 720.5L202.1 717.5L203.5 712.4L205.0 716.6L206.4 710.6L207.9 708.9L209.3 711.0L210.8 709.8L212.2 705.3L213.7 702.3L215.1 703.9L216.6 698.5L218.0 692.1L219.5 684.6L220.9 694.5L222.4 680.8L223.8 676.2L225.3 684.5L226.7 686.3L228.2 680.6L229.6 686.3L231.1 681.3L232.5 680.4L234.0 678.5L235.4 672.8L236.9 673.2L238.3 676.2L239.8 663.5L241.2 667.4L242.7 667.5L244.1 661.1L245.6 662.7L247.0 651.8L248.5 658.0L249.9 659.5L251.4 662.3L252.8 660.4L254.3 652.0L255.7 647.6L257.2 659.3L258.6 654.0L260.1 639.6L261.5 645.5L263.0 640.7L264.4 640.0L265.9 630.8L267.3 638.2L268.8 636.5L270.2 637.3L271.7 642.4L273.1 637.9L274.6 627.4L276.0 622.9L277.5 630.3L278.9 638.2L280.4 636.5L281.8 627.2L283.3 635.8L284.7 631.7L286.2 624.5L287.6 629.9L289.1 626.9L290.5 619.1L292.0 623.5L293.4 627.0L294.9 631.9L296.3 617.9L297.8 626.1L299.2 623.8L300.7 622.1L302.1 612.6L303.6 625.7L305.0 624.9L306.5 626.0L307.9 620.5L309.4 625.2L310.8 620.7L312.3 622.7L313.7 615.4L315.2 618.8L316.6 615.2L318.1 609.7L319.5 613.6L321.0 607.9L322.4 607.2L323.9 612.0L325.3 609.8L326.8 623.6L328.2 621.6L329.7 618.8L331.1 618.0L332.6 608.3L334.0 616.7L335.5 605.1L336.9 611.8L338.4 613.5L339.8 615.0L341.3 622.5L342.7 613.2L344.2 631.1L345.6 616.6L347.1 625.3L348.5 614.7L350.0 629.0L351.4 620.2L352.9 630.0L354.3 628.9L355.8 632.6L357.2 631.5L358.7 630.4L360.1 627.4L361.6 637.3L363.0 624.9L364.5 628.2L365.9 625.2L367.4 630.1L368.8 623.5L370.3 628.2L371.7 634.2L373.2 628.7L374.6 635.7L376.1 630.4L377.5 641.6L379.0 635.7L380.4 644.9L381.9 641.6L383.3 640.4L384.8 646.3L386.2 648.6L387.7 652.2L389.1 651.4L390.6 648.5L392.0 636.1L393.5 647.2L394.9 641.8L396.4 643.4L397.8 646.3L399.3 635.2L400.7 645.1L402.2 650.2L403.6 643.2L405.1 639.5L406.5 648.5L408.0 644.3L409.4 648.9L410.9 650.7L412.3 636.3L413.8 648.4L415.2 636.5L416.7 641.5L418.1 648.2L419.6 637.2L421.0 639.9L422.5 641.2L423.9 645.1L425.4 644.8L426.8 645.1L428.3 640.1L429.7 638.7L431.2 645.7L432.6 638.4L434.1 639.0L435.5 647.6L437.0 639.6L438.4 639.1L439.9 650.2L441.3 645.3L442.8 631.3L444.2 641.5L445.7 655.1L447.1 659.2L448.6 645.8L450.0 651.2L451.5 651.8L452.9 650.4L454.4 637.5L455.8 652.9L457.3 649.4L458.7 646.1L460.2 636.5L461.6 642.4L463.1 645.3L464.5 645.4L466.0 649.1L467.4 646.6L468.9 654.4L470.3 653.9L471.8 644.9L473.2 648.2L474.7 653.3L476.1 647.5L477.6 656.4L479.0 646.5L480.5 650.6L481.9 651.6L483.4 642.8L484.8 656.4L486.3 651.3L487.7 649.4L489.2 650.8L490.6 645.9L492.1 649.0L493.5 663.6L495.0 656.8L496.4 656.0L497.9 658.7L499.3 660.3L500.8 653.1L502.2 656.8L503.7 659.3L505.1 662.4L506.6 660.0L508.0 666.1L509.5 658.7L510.9 658.6L512.4 652.8L513.8 661.5L515.3 665.0L516.7 661.5L518.2 662.4L519.6 657.8L521.1 660.4L522.5 661.5L524.0 663.9L525.4 668.8L526.9 666.9L528.3 668.7L529.8 670.0L531.2 661.8L532.7 668.7L534.1 662.6L535.6 653.3L537.0 656.5L538.5 659.4L539.9 653.9L541.4 670.8L542.8 664.7L544.3 669.4L545.7 662.4L547.2 670.4L548.6 672.4L550.1 668.2L551.5 674.7L553.0 674.8L554.4 677.4L555.9 670.5L557.3 680.2L558.8 677.8L560.2 676.0L561.7 669.8L563.1 681.3L564.6 681.2L566.0 692.1L567.5 678.6L568.9 690.8L570.4 690.8L571.8 688.9L573.3 689.2L574.7 690.2L576.2 681.0L577.6 693.2L579.1 686.9L580.5 684.8L582.0 688.6L583.4 674.5L584.9 681.3L586.3 681.6L587.8 679.1L589.2 688.7L590.7 691.7L592.1 685.9L593.6 683.8L595.0 686.2L596.5 681.9L597.9 684.6L599.4 685.1L600.8 682.0L602.3 680.5L603.7 682.6L605.2 682.1L606.6 683.7L608.1 672.8L609.5 674.3L611.0 677.1L612.4 680.9L613.9 671.5L615.3 682.3L616.8 682.6L618.2 672.8L619.7 680.3L621.1 663.9L622.6 673.6L624.0 664.2L625.5 675.3L626.9 673.2L628.4 670.9L629.8 665.2L631.3 661.9L632.7 670.0L634.2 665.2L635.6 670.7L637.1 658.6L638.5 669.5L640.0 670.1L641.4 655.1L642.9 661.2L644.3 664.7L645.8 665.7L647.2 660.1L648.7 671.1L650.1 665.7L651.6 672.7L653.0 664.5L654.5 670.6L655.9 679.9L657.4 673.3L658.8 682.0L660.3 688.1L661.7 688.6L663.2 680.4L664.6 695.7L666.1 686.6L667.5 693.7L669.0 694.9L670.4 691.3L671.9 696.1L673.3 683.6L674.8 697.3L676.2 699.0L677.7 698.4L679.1 701.7L680.6 705.5L682.0 706.2L683.5 701.8L684.9 708.0L686.4 710.1L687.8 708.3L689.3 710.1L690.7 699.7L692.2 704.2L693.6 712.6L695.1 706.4L696.5 715.5L698.0 717.1L699.4 711.1L700.9 711.4L702.3 715.9L703.8 718.3L705.2 720.7L706.7 718.8L708.1 720.8L709.6 718.2L711.0 723.4L712.5 720.7L713.9 725.8L715.4 725.3L716.8 718.3L718.3 724.8L719.7 720.4L721.2 726.4L722.6 721.2L724.1 728.0L725.5 728.2L727.0 730.6L728.4 728.0L729.9 728.0L731.3 731.0L732.8 725.2L734.2 728.8L735.7 728.1L737.1 729.0L738.6 724.5L740.0 724.4L741.5 724.4L742.9 732.4L744.4 728.6L745.8 731.0L747.3 729.4L748.7 729.6L750.2 733.4L751.6 724.9L753.1 731.4L754.5 730.5L756.0 730.7L757.4 729.5L758.9 730.4L760.3 731.8L761.8 736.9L763.2 733.4L764.7 734.1L766.1 734.9L767.6 736.6L769.0 737.3L770.5 736.1L771.9 735.8L773.4 736.9L774.8 734.1L776.3 736.7L777.7 739.2L779.2 735.1L780.6 734.8L782.1 733.3L783.5 737.3L785.0 738.4L786.4 736.4L787.9 736.7L789.3 739.4L790.8 737.7L792.2 738.9L793.7 737.0L795.1 739.9L796.6 739.6L798.0 738.6L799.5 738.4L800.9 743.8L802.4 739.0L803.8 739.7L805.3 736.9L806.7 742.6L808.2 741.9L809.6 741.7L811.1 739.1L812.5 742.1L814.0 740.7L815.4 740.2L816.9 742.0L818.3 742.9L819.8 742.3L821.2 741.8L822.7 743.8L824.1 743.4L825.6 742.5L827.0 744.0L828.5 743.8L829.9 744.6L831.4 744.7L832.8 744.7L834.3 743.0L835.7 745.5L837.2 745.3L838.6 743.6L840.1 745.8L841.5 744.8L843.0 743.3L844.4 744.9L845.9 743.2L847.3 746.3L848.8 743.6L850.2 746.9L851.7 744.5L853.1 745.6L854.6 747.0L856.0 746.3L857.5 743.9L858.9 745.9L860.4 743.8L861.8 746.8L863.3 745.0L864.7 746.3L866.2 746.3L867.6 744.7L869.1 746.9L870.5 748.1L872.0 745.5L873.4 745.8L874.9 746.8L876.3 747.4L877.8 745.1L879.2 746.4L880.7 746.4L882.1 747.3L883.6 745.9L885.0 749.0L886.5 749.0L887.9 746.6L889.4 746.9L890.8 747.8L892.3 746.7L893.7 746.6L895.2 747.0L896.6 746.1L898.1 746.4L899.5 747.4L901.0 746.8L902.4 747.7L903.9 748.2L905.3 748.4L906.8 747.8L908.2 749.1L909.7 747.6L911.1 748.6L912.6 749.2L914.0 748.3L915.5 748.7L916.9 748.0L918.4 748.0L919.8 748.7L921.3 748.8L922.7 748.8L924.2 749.0L925.6 748.9L927.1 748.7L928.5 748.4L930.0 748.8L931.4 749.0L932.9 749.0L934.3 748.5L934.3 749.5L116.5 749.5Z" fill="#f6e96b" stroke="none"/>
<path d="M116.5 748.9L118.0 745.8L119.4 747.1L120.9 746.2L122.3 745.1L123.8 745.2L125.2 744.9L126.7 745.2L128.1 745.4L129.6 745.7L131.0 744.6L132.5 745.3L133.9 744.3L135.4 743.6L136.8 742.8L138.3 741.2L139.7 739.7L141.2 742.2L142.6 741.7L144.1 742.2L145.5 741.9L147.0 738.8L148.4 739.5L149.9 738.4L151.3 741.8L152.8 739.9L154.2 740.1L155.7 737.7L157.1 736.3L158.6 737.2L160.0 737.7L161.5 738.1L162.9 733.2L164.4 736.8L165.8 733.5L167.3 733.6L168.7 733.4L170.2 732.4L171.6 733.7L173.1 733.8L174.5 732.0L176.0 728.9L177.4 730.4L178.9 729.5L180.3 729.5L181.8 727.5L183.2 720.9L184.7 722.7L186.1 722.9L187.6 725.5L189.0 722.3L190.5 724.1L191.9 722.1L193.4 716.5L194.8 720.1L196.3 720.5L197.7 720.3L199.2 714.1L200.6 720.5L202.1 717.5L203.5 712.4L205.0 716.6L206.4 710.6L207.9 708.9L209.3 711.0L210.8 709.8L212.2 705.3L213.7 702.3L215.1 703.9L216.6 698.5L218.0 692.1L219.5 684.6L220.9 694.5L222.4 680.8L223.8 676.2L225.3 684.5L226.7 686.3L228.2 680.6L229.6 686.3L231.1 681.3L232.5 680.4L234.0 678.5L235.4 672.8L236.9 673.2L238.3 676.2L239.8 663.5L241.2 667.4L242.7 667.5L244.1 661.1L245.6 662.7L247.0 651.8L248.5 658.0L249.9 659.5L251.4 662.3L252.8 660.4L254.3 652.0L255.7 647.6L257.2 659.3L258.6 654.0L260.1 639.6L261.5 645.5L263.0 640.7L264.4 640.0L265.9 630.8L267.3 638.2L268.8 636.5L270.2 637.3L271.7 642.4L273.1 637.9L274.6 627.4L276.0 622.9L277.5 630.3L278.9 638.2L280.4 636.5L281.8 627.2L283.3 635.8L284.7 631.7L286.2 624.5L287.6 629.9L289.1 626.9L290.5 619.1L292.0 623.5L293.4 627.0L294.9 631.9L296.3 617.9L297.8 626.1L299.2 623.8L300.7 622.1L302.1 612.6L303.6 625.7L305.0 624.9L306.5 626.0L307.9 620.5L309.4 625.2L310.8 620.7L312.3 622.7L313.7 615.4L315.2 618.8L316.6 615.2L318.1 609.7L319.5 613.6L321.0 607.9L322.4 607.2L323.9 612.0L325.3 609.8L326.8 623.6L328.2 621.6L329.7 618.8L331.1 618.0L332.6 608.3L334.0 616.7L335.5 605.1L336.9 611.8L338.4 613.5L339.8 615.0L341.3 622.5L342.7 613.2L344.2 631.1L345.6 616.6L347.1 625.3L348.5 614.7L350.0 629.0L351.4 620.2L352.9 630.0L354.3 628.9L355.8 632.6L357.2 631.5L358.7 630.4L360.1 627.4L361.6 637.3L363.0 624.9L364.5 628.2L365.9 625.2L367.4 630.1L368.8 623.5L370.3 628.2L371.7 634.2L373.2 628.7L374.6 635.7L376.1 630.4L377.5 641.6L379.0 635.7L380.4 644.9L381.9 641.6L383.3 640.4L384.8 646.3L386.2 648.6L387.7 652.2L389.1 651.4L390.6 648.5L392.0 636.1L393.5 647.2L394.9 641.8L396.4 643.4L397.8 646.3L399.3 635.2L400.7 645.1L402.2 650.2L403.6 643.2L405.1 639.5L406.5 648.5L408.0 644.3L409.4 648.9L410.9 650.7L412.3 636.3L413.8 648.4L415.2 636.5L416.7 641.5L418.1 648.2L419.6 637.2L421.0 639.9L422.5 641.2L423.9 645.1L425.4 644.8L426.8 645.1L428.3 640.1L429.7 638.7L431.2 645.7L432.6 638.4L434.1 639.0L435.5 647.6L437.0 639.6L438.4 639.1L439.9 650.2L441.3 645.3L442.8 631.3L444.2 641.5L445.7 655.1L447.1 659.2L448.6 645.8L450.0 651.2L451.5 651.8L452.9 650.4L454.4 637.5L455.8 652.9L457.3 649.4L458.7 646.1L460.2 636.5L461.6 642.4L463.1 645.3L464.5 645.4L466.0 649.1L467.4 646.6L468.9 654.4L470.3 653.9L471.8 644.9L473.2 648.2L474.7 653.3L476.1 647.5L477.6 656.4L479.0 646.5L480.5 650.6L481.9 651.6L483.4 642.8L484.8 656.4L486.3 651.3L487.7 649.4L489.2 650.8L490.6 645.9L492.1 649.0L493.5 663.6L495.0 656.8L496.4 656.0L497.9 658.7L499.3 660.3L500.8 653.1L502.2 656.8L503.7 659.3L505.1 662.4L506.6 660.0L508.0 666.1L509.5 658.7L510.9 658.6L512.4 652.8L513.8 661.5L515.3 665.0L516.7 661.5L518.2 662.4L519.6 657.8L521.1 660.4L522.5 661.5L524.0 663.9L525.4 668.8L526.9 666.9L528.3 668.7L529.8 670.0L531.2 661.8L532.7 668.7L534.1 662.6L535.6 653.3L537.0 656.5L538.5 659.4L539.9 653.9L541.4 670.8L542.8 664.7L544.3 669.4L545.7 662.4L547.2 670.4L548.6 672.4L550.1 668.2L551.5 674.7L553.0 674.8L554.4 677.4L555.9 670.5L557.3 680.2L558.8 677.8L560.2 676.0L561.7 669.8L563.1 681.3L564.6 681.2L566.0 692.1L567.5 678.6L568.9 690.8L570.4 690.8L571.8 688.9L573.3 689.2L574.7 690.2L576.2 681.0L577.6 693.2L579.1 686.9L580.5 684.8L582.0 688.6L583.4 674.5L584.9 681.3L586.3 681.6L587.8 679.1L589.2 688.7L590.7 691.7L592.1 685.9L593.6 683.8L595.0 686.2L596.5 681.9L597.9 684.6L599.4 685.1L600.8 682.0L602.3 680.5L603.7 682.6L605.2 682.1L606.6 683.7L608.1 672.8L609.5 674.3L611.0 677.1L612.4 680.9L613.9 671.5L615.3 682.3L616.8 682.6L618.2 672.8L619.7 680.3L621.1 663.9L622.6 673.6L624.0 664.2L625.5 675.3L626.9 673.2L628.4 670.9L629.8 665.2L631.3 661.9L632.7 670.0L634.2 665.2L635.6 670.7L637.1 658.6L638.5 669.5L640.0 670.1L641.4 655.1L642.9 661.2L644.3 664.7L645.8 665.7L647.2 660.1L648.7 671.1L650.1 665.7L651.6 672.7L653.0 664.5L654.5 670.6L655.9 679.9L657.4 673.3L658.8 682.0L660.3 688.1L661.7 688.6L663.2 680.4L664.6 695.7L666.1 686.6L667.5 693.7L669.0 694.9L670.4 691.3L671.9 696.1L673.3 683.6L674.8 697.3L676.2 699.0L677.7 698.4L679.1 701.7L680.6 705.5L682.0 706.2L683.5 701.8L684.9 708.0L686.4 710.1L687.8 708.3L689.3 710.1L690.7 699.7L692.2 704.2L693.6 712.6L695.1 706.4L696.5 715.5L698.0 717.1L699.4 711.1L700.9 711.4L702.3 715.9L703.8 718.3L705.2 720.7L706.7 718.8L708.1 720.8L709.6 718.2L711.0 723.4L712.5 720.7L713.9 725.8L715.4 725.3L716.8 718.3L718.3 724.8L719.7 720.4L721.2 726.4L722.6 721.2L724.1 728.0L725.5 728.2L727.0 730.6L728.4 728.0L729.9 728.0L731.3 731.0L732.8 725.2L734.2 728.8L735.7 728.1L737.1 729.0L738.6 724.5L740.0 724.4L741.5 724.4L742.9 732.4L744.4 728.6L745.8 731.0L747.3 729.4L748.7 729.6L750.2 733.4L751.6 724.9L753.1 731.4L754.5 730.5L756.0 730.7L757.4 729.5L758.9 730.4L760.3 731.8L761.8 736.9L763.2 733.4L764.7 734.1L766.1 734.9L767.6 736.6L769.0 737.3L770.5 736.1L771.9 735.8L773.4 736.9L774.8 734.1L776.3 736.7L777.7 739.2L779.2 735.1L780.6 734.8L782.1 733.3L783.5 737.3L785.0 738.4L786.4 736.4L787.9 736.7L789.3 739.4L790.8 737.7L792.2 738.9L793.7 737.0L795.1 739.9L796.6 739.6L798.0 738.6L799.5 738.4L800.9 743.8L802.4 739.0L803.8 739.7L805.3 736.9L806.7 742.6L808.2 741.9L809.6 741.7L811.1 739.1L812.5 742.1L814.0 740.7L815.4 740.2L816.9 742.0L818.3 742.9L819.8 742.3L821.2 741.8L822.7 743.8L824.1 743.4L825.6 742.5L827.0 744.0L828.5 743.8L829.9 744.6L831.4 744.7L832.8 744.7L834.3 743.0L835.7 745.5L837.2 745.3L838.6 743.6L840.1 745.8L841.5 744.8L843.0 743.3L844.4 744.9L845.9 743.2L847.3 746.3L848.8 743.6L850.2 746.9L851.7 744.5L853.1 745.6L854.6 747.0L856.0 746.3L857.5 743.9L858.9 745.9L860.4 743.8L861.8 746.8L863.3 745.0L864.7 746.3L866.2 746.3L867.6 744.7L869.1 746.9L870.5 748.1L872.0 745.5L873.4 745.8L874.9 746.8L876.3 747.4L877.8 745.1L879.2 746.4L880.7 746.4L882.1 747.3L883.6 745.9L885.0 749.0L886.5 749.0L887.9 746.6L889.4 746.9L890.8 747.8L892.3 746.7L893.7 746.6L895.2 747.0L896.6 746.1L898.1 746.4L899.5 747.4L901.0 746.8L902.4 747.7L903.9 748.2L905.3 748.4L906.8 747.8L908.2 749.1L909.7 747.6L911.1 748.6L912.6 749.2L914.0 748.3L915.5 748.7L916.9 748.0L918.4 748.0L919.8 748.7L921.3 748.8L922.7 748.8L924.2 749.0L925.6 748.9L927.1 748.7L928.5 748.4L930.0 748.8L931.4 749.0L932.9 749.0L934.3 748.5" fill="none" stroke="#000" stroke-width="1.05" stroke-linejoin="miter"/>
<path d="M116.5 708.2L118.0 708.2L118.0 710.7L119.5 710.7L119.5 707.7L121.0 707.7L121.0 707.0L122.5 707.0L122.5 705.0L124.0 705.0L124.0 708.0L125.5 708.0L125.5 713.2L127.0 713.2L127.0 711.6L128.5 711.6L128.5 714.9L130.0 714.9L130.0 713.3L131.5 713.3L131.5 714.6L133.0 714.6L133.0 713.9L134.5 713.9L134.5 707.5L136.0 707.5L136.0 716.4L137.5 716.4L137.5 715.3L139.0 715.3L139.0 715.3L140.5 715.3L140.5 707.7L142.0 707.7L142.0 707.6L143.5 707.6L143.5 709.9L145.0 709.9L145.0 710.8L146.5 710.8L146.5 712.9L148.0 712.9L148.0 711.0L149.5 711.0L149.5 712.2L151.0 712.2L151.0 707.0L152.5 707.0L152.5 709.6L154.0 709.6L154.0 708.9L155.5 708.9L155.5 703.7L157.0 703.7L157.0 711.6L158.5 711.6L158.5 705.9L160.0 705.9L160.0 707.0L161.5 707.0L161.5 698.7L163.0 698.7L163.0 696.9L164.5 696.9L164.5 697.1L166.0 697.1L166.0 696.7L167.5 696.7L167.5 698.5L169.0 698.5L169.0 695.8L170.5 695.8L170.5 691.6L172.0 691.6L172.0 688.3L173.5 688.3L173.5 689.0L175.0 689.0L175.0 695.6L176.5 695.6L176.5 685.5L178.0 685.5L178.0 689.0L179.5 689.0L179.5 688.5L181.0 688.5L181.0 678.6L182.5 678.6L182.5 684.3L184.0 684.3L184.0 688.9L185.5 688.9L185.5 673.4L187.0 673.4L187.0 678.5L188.5 678.5L188.5 676.9L190.0 676.9L190.0 672.0L191.5 672.0L191.5 674.2L193.0 674.2L193.0 669.8L194.5 669.8L194.5 662.4L196.0 662.4L196.0 668.1L197.5 668.1L197.5 665.6L199.0 665.6L199.0 666.3L200.5 666.3L200.5 667.6L202.0 667.6L202.0 660.7L203.5 660.7L203.5 658.1L205.0 658.1L205.0 649.8L206.5 649.8L206.5 657.3L208.0 657.3L208.0 649.8L209.5 649.8L209.5 648.8L211.0 648.8L211.0 643.2L212.5 643.2L212.5 642.8L214.0 642.8L214.0 643.2L215.5 643.2L215.5 650.4L217.0 650.4L217.0 631.7L218.5 631.7L218.5 632.3L220.0 632.3L220.0 641.6L221.5 641.6L221.5 648.1L223.0 648.1L223.0 642.2L224.5 642.2L224.5 626.5L226.0 626.5L226.0 624.1L227.5 624.1L227.5 636.2L229.0 636.2L229.0 629.1L230.5 629.1L230.5 625.0L232.0 625.0L232.0 633.3L233.5 633.3L233.5 634.7L235.0 634.7L235.0 629.3L236.5 629.3L236.5 630.4L238.0 630.4L238.0 631.6L239.5 631.6L239.5 638.0L241.0 638.0L241.0 631.1L242.5 631.1L242.5 631.4L244.0 631.4L244.0 632.6L245.5 632.6L245.5 620.5L247.0 620.5L247.0 639.1L248.5 639.1L248.5 635.9L250.0 635.9L250.0 632.1L251.5 632.1L251.5 615.3L253.0 615.3L253.0 622.5L254.5 622.5L254.5 630.6L256.0 630.6L256.0 612.9L257.5 612.9L257.5 622.3L259.0 622.3L259.0 629.7L260.5 629.7L260.5 614.8L262.0 614.8L262.0 599.5L263.5 599.5L263.5 626.7L265.0 626.7L265.0 623.2L266.5 623.2L266.5 626.9L268.0 626.9L268.0 627.7L269.5 627.7L269.5 623.2L271.0 623.2L271.0 628.6L272.5 628.6L272.5 619.9L274.0 619.9L274.0 623.4L275.5 623.4L275.5 632.1L277.0 632.1L277.0 631.5L278.5 631.5L278.5 629.0L280.0 629.0L280.0 640.0L281.5 640.0L281.5 644.3L283.0 644.3L283.0 635.5L284.5 635.5L284.5 630.6L286.0 630.6L286.0 638.7L287.5 638.7L287.5 639.2L289.0 639.2L289.0 639.0L290.5 639.0L290.5 649.5L292.0 649.5L292.0 635.1L293.5 635.1L293.5 648.7L295.0 648.7L295.0 634.8L296.5 634.8L296.5 641.9L298.0 641.9L298.0 649.9L299.5 649.9L299.5 655.3L301.0 655.3L301.0 657.3L302.5 657.3L302.5 656.0L304.0 656.0L304.0 656.0L305.5 656.0L305.5 657.2L307.0 657.2L307.0 660.6L308.5 660.6L308.5 657.8L310.0 657.8L310.0 661.6L311.5 661.6L311.5 664.6L313.0 664.6L313.0 663.4L314.5 663.4L314.5 668.5L316.0 668.5L316.0 669.1L317.5 669.1L317.5 678.5L319.0 678.5L319.0 669.4L320.5 669.4L320.5 665.1L322.0 665.1L322.0 664.9L323.5 664.9L323.5 666.2L325.0 666.2L325.0 670.7L326.5 670.7L326.5 663.6L328.0 663.6L328.0 667.7L329.5 667.7L329.5 676.0L331.0 676.0L331.0 653.9L332.5 653.9L332.5 662.7L334.0 662.7L334.0 671.0L335.5 671.0L335.5 674.4L337.0 674.4L337.0 677.1L338.5 677.1L338.5 675.0L340.0 675.0L340.0 681.2L341.5 681.2L341.5 680.3L343.0 680.3L343.0 677.4L344.5 677.4L344.5 692.3L346.0 692.3L346.0 683.4L347.5 683.4L347.5 678.8L349.0 678.8L349.0 680.8L350.5 680.8L350.5 679.9L352.0 679.9L352.0 680.5L353.5 680.5L353.5 667.5L355.0 667.5L355.0 678.0L356.5 678.0L356.5 685.3L358.0 685.3L358.0 675.4L359.5 675.4L359.5 681.1L361.0 681.1L361.0 686.4L362.5 686.4L362.5 686.4L364.0 686.4L364.0 689.9L365.5 689.9L365.5 675.5L367.0 675.5L367.0 682.7L368.5 682.7L368.5 683.6L370.0 683.6L370.0 688.9L371.5 688.9L371.5 691.9L373.0 691.9L373.0 675.7L374.5 675.7L374.5 693.5L376.0 693.5L376.0 682.0L377.5 682.0L377.5 691.5L379.0 691.5L379.0 681.5L380.5 681.5L380.5 688.9L382.0 688.9L382.0 693.3L383.5 693.3L383.5 687.1L385.0 687.1L385.0 688.9L386.5 688.9L386.5 692.1L388.0 692.1L388.0 689.6L389.5 689.6L389.5 689.0L391.0 689.0L391.0 696.7L392.5 696.7L392.5 695.0L394.0 695.0L394.0 689.6L395.5 689.6L395.5 703.9L397.0 703.9L397.0 688.0L398.5 688.0L398.5 697.9L400.0 697.9L400.0 693.9L401.5 693.9L401.5 696.2L403.0 696.2L403.0 698.5L404.5 698.5L404.5 696.4L406.0 696.4L406.0 698.0L407.5 698.0L407.5 688.5L409.0 688.5L409.0 687.9L410.5 687.9L410.5 696.3L412.0 696.3L412.0 688.8L413.5 688.8L413.5 688.4L415.0 688.4L415.0 686.7L416.5 686.7L416.5 698.8L418.0 698.8L418.0 696.8L419.5 696.8L419.5 700.1L421.0 700.1L421.0 690.0L422.5 690.0L422.5 694.2L424.0 694.2L424.0 689.1L425.5 689.1L425.5 697.1L427.0 697.1L427.0 700.5L428.5 700.5L428.5 689.7L430.0 689.7L430.0 700.1L431.5 700.1L431.5 697.5L433.0 697.5L433.0 692.9L434.5 692.9L434.5 685.6L436.0 685.6L436.0 700.6L437.5 700.6L437.5 694.7L439.0 694.7L439.0 693.0L440.5 693.0L440.5 697.7L442.0 697.7L442.0 698.1L443.5 698.1L443.5 703.0L445.0 703.0L445.0 692.8L446.5 692.8L446.5 702.2L448.0 702.2L448.0 703.9L449.5 703.9L449.5 704.1L451.0 704.1L451.0 697.2L452.5 697.2L452.5 694.5L454.0 694.5L454.0 701.6L455.5 701.6L455.5 697.5L457.0 697.5L457.0 697.2L458.5 697.2L458.5 702.3L460.0 702.3L460.0 695.2L461.5 695.2L461.5 686.8L463.0 686.8L463.0 694.9L464.5 694.9L464.5 688.9L466.0 688.9L466.0 700.3L467.5 700.3L467.5 698.3L469.0 698.3L469.0 694.5L470.5 694.5L470.5 697.2L472.0 697.2L472.0 700.8L473.5 700.8L473.5 697.8L475.0 697.8L475.0 703.2L476.5 703.2L476.5 697.5L478.0 697.5L478.0 702.2L479.5 702.2L479.5 704.2L481.0 704.2L481.0 704.9L482.5 704.9L482.5 695.6L484.0 695.6L484.0 702.1L485.5 702.1L485.5 690.9L487.0 690.9L487.0 694.3L488.5 694.3L488.5 690.9L490.0 690.9L490.0 703.5L491.5 703.5L491.5 694.2L493.0 694.2L493.0 699.3L494.5 699.3L494.5 698.8L496.0 698.8L496.0 699.6L497.5 699.6L497.5 697.5L499.0 697.5L499.0 701.1L500.5 701.1L500.5 707.8L502.0 707.8L502.0 701.0L503.5 701.0L503.5 703.2L505.0 703.2L505.0 705.4L506.5 705.4L506.5 700.9L508.0 700.9L508.0 697.0L509.5 697.0L509.5 700.1L511.0 700.1L511.0 706.9L512.5 706.9L512.5 696.4L514.0 696.4L514.0 700.8L515.5 700.8L515.5 707.5L517.0 707.5L517.0 706.9L518.5 706.9L518.5 704.1L520.0 704.1L520.0 707.5L521.5 707.5L521.5 705.3L523.0 705.3L523.0 700.4L524.5 700.4L524.5 699.2L526.0 699.2L526.0 703.0L527.5 703.0L527.5 709.3L529.0 709.3L529.0 703.9L530.5 703.9L530.5 702.9L532.0 702.9L532.0 703.7L533.5 703.7L533.5 701.1L535.0 701.1L535.0 706.8L536.5 706.8L536.5 702.6L538.0 702.6L538.0 708.3L539.5 708.3L539.5 697.9L541.0 697.9L541.0 708.0L542.5 708.0L542.5 704.2L544.0 704.2L544.0 699.1L545.5 699.1L545.5 709.1L547.0 709.1L547.0 705.2L548.5 705.2L548.5 697.6L550.0 697.6L550.0 702.7L551.5 702.7L551.5 707.0L553.0 707.0L553.0 704.0L554.5 704.0L554.5 708.8L556.0 708.8L556.0 709.1L557.5 709.1L557.5 709.2L559.0 709.2L559.0 708.3L560.5 708.3L560.5 712.4L562.0 712.4L562.0 710.3L563.5 710.3L563.5 709.9L565.0 709.9L565.0 700.8L566.5 700.8L566.5 712.3L568.0 712.3L568.0 714.2L569.5 714.2L569.5 708.7L571.0 708.7L571.0 708.5L572.5 708.5L572.5 717.6L574.0 717.6L574.0 704.4L575.5 704.4L575.5 712.5L577.0 712.5L577.0 719.6L578.5 719.6L578.5 707.5L580.0 707.5L580.0 713.4L581.5 713.4L581.5 717.7L583.0 717.7L583.0 710.5L584.5 710.5L584.5 713.0L586.0 713.0L586.0 714.3L587.5 714.3L587.5 707.8L589.0 707.8L589.0 710.8L590.5 710.8L590.5 712.2L592.0 712.2L592.0 714.2L593.5 714.2L593.5 710.9L595.0 710.9L595.0 710.2L596.5 710.2L596.5 707.0L598.0 707.0L598.0 709.3L599.5 709.3L599.5 713.7L601.0 713.7L601.0 710.6L602.5 710.6L602.5 707.0L604.0 707.0L604.0 706.9L605.5 706.9L605.5 719.6L607.0 719.6L607.0 713.8L608.5 713.8L608.5 711.8L610.0 711.8L610.0 699.7L611.5 699.7L611.5 711.4L613.0 711.4L613.0 710.6L614.5 710.6L614.5 714.9L616.0 714.9L616.0 710.0L617.5 710.0L617.5 707.9L619.0 707.9L619.0 709.8L620.5 709.8L620.5 700.3L622.0 700.3L622.0 711.4L623.5 711.4L623.5 708.5L625.0 708.5L625.0 704.5L626.5 704.5L626.5 712.0L628.0 712.0L628.0 713.7L629.5 713.7L629.5 701.3L631.0 701.3L631.0 703.9L632.5 703.9L632.5 707.4L634.0 707.4L634.0 706.8L635.5 706.8L635.5 704.4L637.0 704.4L637.0 702.0L638.5 702.0L638.5 713.8L640.0 713.8L640.0 709.7L641.5 709.7L641.5 701.1L643.0 701.1L643.0 700.5L644.5 700.5L644.5 712.2L646.0 712.2L646.0 709.5L647.5 709.5L647.5 712.7L649.0 712.7L649.0 708.8L650.5 708.8L650.5 702.4L652.0 702.4L652.0 707.9L653.5 707.9L653.5 702.7L655.0 702.7L655.0 708.5L656.5 708.5L656.5 711.9L658.0 711.9L658.0 713.8L659.5 713.8L659.5 709.1L661.0 709.1L661.0 711.1L662.5 711.1L662.5 713.0L664.0 713.0L664.0 712.5L665.5 712.5L665.5 713.3L667.0 713.3L667.0 711.5L668.5 711.5L668.5 709.4L670.0 709.4L670.0 713.3L671.5 713.3L671.5 710.4L673.0 710.4L673.0 707.3L674.5 707.3L674.5 708.2L676.0 708.2L676.0 710.7L677.5 710.7L677.5 710.4L679.0 710.4L679.0 711.5L680.5 711.5L680.5 711.1L682.0 711.1L682.0 711.9L683.5 711.9L683.5 711.0L685.0 711.0L685.0 707.1L686.5 707.1L686.5 713.3L688.0 713.3L688.0 715.7L689.5 715.7L689.5 713.3L691.0 713.3L691.0 710.9L692.5 710.9L692.5 713.1L694.0 713.1L694.0 707.8L695.5 707.8L695.5 704.3L697.0 704.3L697.0 711.2L698.5 711.2L698.5 707.5L700.0 707.5L700.0 713.4L701.5 713.4L701.5 706.6L703.0 706.6L703.0 700.8L704.5 700.8L704.5 706.5L706.0 706.5L706.0 716.4L707.5 716.4L707.5 709.9L709.0 709.9L709.0 707.1L710.5 707.1L710.5 709.9L712.0 709.9L712.0 715.1L713.5 715.1L713.5 715.7L715.0 715.7L715.0 714.8L716.5 714.8L716.5 719.3L718.0 719.3L718.0 716.6L719.5 716.6L719.5 714.1L721.0 714.1L721.0 716.3L722.5 716.3L722.5 719.9L724.0 719.9L724.0 717.6L725.5 717.6L725.5 717.8L727.0 717.8L727.0 710.4L728.5 710.4L728.5 713.7L730.0 713.7L730.0 716.7L731.5 716.7L731.5 713.3L733.0 713.3L733.0 718.2L734.5 718.2L734.5 716.7L736.0 716.7L736.0 717.9L737.5 717.9L737.5 714.2L739.0 714.2L739.0 723.8L740.5 723.8L740.5 719.5L742.0 719.5L742.0 714.5L743.5 714.5L743.5 715.7L745.0 715.7L745.0 724.3L746.5 724.3L746.5 714.3L748.0 714.3L748.0 718.5L749.5 718.5L749.5 718.9L751.0 718.9L751.0 715.7L752.5 715.7L752.5 711.7L754.0 711.7L754.0 716.4L755.5 716.4L755.5 717.0L757.0 717.0L757.0 719.7L758.5 719.7L758.5 718.6L760.0 718.6L760.0 716.1L761.5 716.1L761.5 719.0L763.0 719.0L763.0 718.0L764.5 718.0L764.5 716.9L766.0 716.9L766.0 716.5L767.5 716.5L767.5 715.6L769.0 715.6L769.0 718.8L770.5 718.8L770.5 713.0L772.0 713.0L772.0 714.5L773.5 714.5L773.5 716.8L775.0 716.8L775.0 711.9L776.5 711.9L776.5 715.5L778.0 715.5L778.0 710.3L779.5 710.3L779.5 714.8L781.0 714.8L781.0 719.1L782.5 719.1L782.5 719.2L784.0 719.2L784.0 717.2L785.5 717.2L785.5 716.7L787.0 716.7L787.0 712.9L788.5 712.9L788.5 723.7L790.0 723.7L790.0 719.5L791.5 719.5L791.5 721.6L793.0 721.6L793.0 715.2L794.5 715.2L794.5 717.7L796.0 717.7L796.0 712.5L797.5 712.5L797.5 721.1L799.0 721.1L799.0 721.8L800.5 721.8L800.5 712.7L802.0 712.7L802.0 718.9L803.5 718.9L803.5 721.2L805.0 721.2L805.0 713.7L806.5 713.7L806.5 713.7L808.0 713.7L808.0 716.3L809.5 716.3L809.5 717.8L811.0 717.8L811.0 715.5L812.5 715.5L812.5 720.2L814.0 720.2L814.0 721.2L815.5 721.2L815.5 722.8L817.0 722.8L817.0 723.3L818.5 723.3L818.5 726.1L820.0 726.1L820.0 725.4L821.5 725.4L821.5 718.1L823.0 718.1L823.0 720.9L824.5 720.9L824.5 719.6L826.0 719.6L826.0 719.9L827.5 719.9L827.5 723.4L829.0 723.4L829.0 724.1L830.5 724.1L830.5 725.9L832.0 725.9L832.0 720.3L833.5 720.3L833.5 721.7L835.0 721.7L835.0 725.7L836.5 725.7L836.5 725.6L838.0 725.6L838.0 725.7L839.5 725.7L839.5 726.9L841.0 726.9L841.0 725.4L842.5 725.4L842.5 729.9L844.0 729.9L844.0 729.4L845.5 729.4L845.5 728.7L847.0 728.7L847.0 727.6L848.5 727.6L848.5 729.4L850.0 729.4L850.0 723.2L851.5 723.2L851.5 728.2L853.0 728.2L853.0 731.3L854.5 731.3L854.5 727.8L856.0 727.8L856.0 732.5L857.5 732.5L857.5 732.8L859.0 732.8L859.0 729.6L860.5 729.6L860.5 732.8L862.0 732.8L862.0 733.1L863.5 733.1L863.5 735.3L865.0 735.3L865.0 736.1L866.5 736.1L866.5 735.1L868.0 735.1L868.0 733.7L869.5 733.7L869.5 735.7L871.0 735.7L871.0 736.4L872.5 736.4L872.5 738.5L874.0 738.5L874.0 738.0L875.5 738.0L875.5 736.4L877.0 736.4L877.0 735.6L878.5 735.6L878.5 738.1L880.0 738.1L880.0 737.9L881.5 737.9L881.5 737.6L883.0 737.6L883.0 740.0L884.5 740.0L884.5 739.8L886.0 739.8L886.0 741.4L887.5 741.4L887.5 742.4L889.0 742.4L889.0 741.1L890.5 741.1L890.5 746.0L892.0 746.0L892.0 741.8L893.5 741.8L893.5 744.4L895.0 744.4L895.0 743.1L896.5 743.1L896.5 745.0L898.0 745.0L898.0 739.8L899.5 739.8L899.5 742.5L901.0 742.5L901.0 744.2L902.5 744.2L902.5 744.9L904.0 744.9L904.0 747.6L905.5 747.6L905.5 744.9L907.0 744.9L907.0 746.4L908.5 746.4L908.5 745.8L910.0 745.8L910.0 746.2L911.5 746.2L911.5 745.8L913.0 745.8L913.0 745.0L914.5 745.0L914.5 746.1L916.0 746.1L916.0 744.1L917.5 744.1L917.5 747.2L919.0 747.2L919.0 744.6L920.5 744.6L920.5 746.3L922.0 746.3L922.0 748.7L923.5 748.7L923.5 746.0L925.0 746.0L925.0 746.4L926.5 746.4L926.5 747.9L928.0 747.9L928.0 746.7L929.5 746.7L929.5 745.9L931.0 745.9L931.0 747.2L932.5 747.2L932.5 747.6L934.0 747.6L934.0 747.9" fill="none" stroke="#000" stroke-width="2.05" stroke-linejoin="miter"/>
<line x1="115.2" y1="444.75" x2="115.2" y2="750.50" stroke="#000" stroke-width="2.4"/>
<line x1="104" y1="749.50" x2="935.5" y2="749.50" stroke="#000" stroke-width="2.2"/>
<line x1="104" y1="445.70" x2="115.2" y2="445.70" stroke="#000" stroke-width="1.8"/>
<line x1="104" y1="521.65" x2="115.2" y2="521.65" stroke="#000" stroke-width="1.8"/>
<line x1="104" y1="597.60" x2="115.2" y2="597.60" stroke="#000" stroke-width="1.8"/>
<line x1="104" y1="673.55" x2="115.2" y2="673.55" stroke="#000" stroke-width="1.8"/>
<line x1="115.00" y1="749.50" x2="115.00" y2="758.10" stroke="#000" stroke-width="2"/>
<line x1="238.15" y1="749.50" x2="238.15" y2="758.10" stroke="#000" stroke-width="2"/>
<line x1="310.19" y1="749.50" x2="310.19" y2="758.10" stroke="#000" stroke-width="2"/>
<line x1="361.30" y1="749.50" x2="361.30" y2="758.10" stroke="#000" stroke-width="2"/>
<line x1="400.95" y1="749.50" x2="400.95" y2="758.10" stroke="#000" stroke-width="2"/>
<line x1="433.34" y1="749.50" x2="433.34" y2="758.10" stroke="#000" stroke-width="2"/>
<line x1="460.73" y1="749.50" x2="460.73" y2="758.10" stroke="#000" stroke-width="2"/>
<line x1="484.45" y1="749.50" x2="484.45" y2="758.10" stroke="#000" stroke-width="2"/>
<line x1="505.38" y1="749.50" x2="505.38" y2="758.10" stroke="#000" stroke-width="2"/>
<line x1="524.10" y1="749.50" x2="524.10" y2="758.10" stroke="#000" stroke-width="2"/>
<line x1="647.25" y1="749.50" x2="647.25" y2="758.10" stroke="#000" stroke-width="2"/>
<line x1="719.29" y1="749.50" x2="719.29" y2="758.10" stroke="#000" stroke-width="2"/>
<line x1="770.40" y1="749.50" x2="770.40" y2="758.10" stroke="#000" stroke-width="2"/>
<line x1="810.05" y1="749.50" x2="810.05" y2="758.10" stroke="#000" stroke-width="2"/>
<line x1="842.44" y1="749.50" x2="842.44" y2="758.10" stroke="#000" stroke-width="2"/>
<line x1="869.83" y1="749.50" x2="869.83" y2="758.10" stroke="#000" stroke-width="2"/>
<line x1="893.55" y1="749.50" x2="893.55" y2="758.10" stroke="#000" stroke-width="2"/>
<line x1="914.48" y1="749.50" x2="914.48" y2="758.10" stroke="#000" stroke-width="2"/>
<line x1="933.20" y1="749.50" x2="933.20" y2="758.10" stroke="#000" stroke-width="2"/>
<text x="96.5" y="456.8" text-anchor="end">500</text>
<text x="96.5" y="761.4" text-anchor="end">0</text>
<text x="524.5" y="456.2" text-anchor="middle">I42</text>
<text x="524.5" y="494.5" text-anchor="middle" style="font-size:32.2px">BDDFVIII</text>
<text x="133.8" y="581.9" style="font-size:32px">FVIII-deficient</text>
<text x="524.5" y="797.2" text-anchor="middle">Human BDDFVIII</text>
<text transform="translate(26.7 598.4) rotate(-90)" text-anchor="middle" style="font-size:31.8px">Platelet count</text>
</g>
<g id="panel3">
<path d="M116.5 1213.6L118.0 1213.3L119.4 1211.9L120.9 1212.1L122.3 1214.4L123.8 1212.4L125.2 1213.0L126.7 1212.9L128.1 1213.2L129.6 1213.8L131.0 1213.1L132.5 1212.2L133.9 1213.6L135.4 1214.8L136.8 1213.8L138.3 1212.4L139.7 1216.2L141.2 1213.0L142.6 1214.1L144.1 1213.4L145.5 1214.6L147.0 1214.3L148.4 1212.7L149.9 1215.1L151.3 1214.6L152.8 1212.6L154.2 1213.0L155.7 1212.8L157.1 1215.2L158.6 1214.4L160.0 1214.4L161.5 1215.1L162.9 1215.5L164.4 1214.4L165.8 1214.6L167.3 1214.1L168.7 1214.1L170.2 1214.3L171.6 1213.9L173.1 1214.8L174.5 1215.2L176.0 1212.6L177.4 1214.8L178.9 1213.7L180.3 1213.8L181.8 1212.1L183.2 1211.2L184.7 1214.0L186.1 1213.3L187.6 1213.3L189.0 1213.8L190.5 1212.5L191.9 1214.3L193.4 1215.2L194.8 1214.9L196.3 1214.3L197.7 1213.8L199.2 1213.9L200.6 1213.4L202.1 1213.1L203.5 1212.6L205.0 1212.0L206.4 1216.7L207.9 1213.4L209.3 1213.1L210.8 1212.5L212.2 1210.6L213.7 1211.4L215.1 1209.1L216.6 1210.4L218.0 1208.3L219.5 1208.9L220.9 1209.1L222.4 1209.7L223.8 1207.4L225.3 1205.4L226.7 1201.9L228.2 1205.6L229.6 1206.8L231.1 1204.9L232.5 1203.3L234.0 1202.9L235.4 1202.5L236.9 1198.9L238.3 1200.1L239.8 1201.1L241.2 1199.7L242.7 1198.0L244.1 1198.5L245.6 1192.0L247.0 1197.8L248.5 1191.4L249.9 1191.1L251.4 1194.8L252.8 1192.3L254.3 1190.4L255.7 1191.9L257.2 1184.8L258.6 1190.2L260.1 1193.1L261.5 1185.9L263.0 1185.0L264.4 1183.0L265.9 1185.0L267.3 1184.0L268.8 1180.1L270.2 1175.0L271.7 1179.5L273.1 1179.0L274.6 1173.5L276.0 1184.5L277.5 1175.7L278.9 1177.2L280.4 1166.7L281.8 1170.8L283.3 1163.6L284.7 1168.6L286.2 1165.8L287.6 1154.2L289.1 1153.5L290.5 1157.3L292.0 1154.3L293.4 1162.9L294.9 1161.4L296.3 1160.9L297.8 1159.6L299.2 1164.3L300.7 1160.5L302.1 1160.3L303.6 1153.3L305.0 1157.0L306.5 1153.7L307.9 1151.8L309.4 1153.4L310.8 1141.9L312.3 1135.1L313.7 1147.3L315.2 1147.4L316.6 1143.4L318.1 1144.7L319.5 1147.3L321.0 1139.0L322.4 1144.0L323.9 1142.5L325.3 1146.7L326.8 1143.7L328.2 1137.1L329.7 1136.8L331.1 1135.5L332.6 1129.8L334.0 1128.2L335.5 1125.2L336.9 1137.1L338.4 1134.9L339.8 1135.2L341.3 1131.1L342.7 1132.3L344.2 1137.8L345.6 1138.6L347.1 1134.3L348.5 1134.6L350.0 1117.8L351.4 1133.9L352.9 1124.3L354.3 1123.8L355.8 1132.1L357.2 1120.0L358.7 1118.3L360.1 1133.3L361.6 1134.3L363.0 1126.3L364.5 1131.4L365.9 1133.9L367.4 1136.3L368.8 1123.0L370.3 1126.6L371.7 1131.3L373.2 1136.4L374.6 1133.6L376.1 1134.6L377.5 1137.0L379.0 1138.1L380.4 1137.5L381.9 1129.1L383.3 1136.4L384.8 1134.2L386.2 1133.7L387.7 1136.8L389.1 1133.1L390.6 1137.1L392.0 1137.7L393.5 1146.6L394.9 1135.0L396.4 1138.6L397.8 1136.1L399.3 1141.7L400.7 1143.4L402.2 1137.8L403.6 1146.6L405.1 1138.6L406.5 1141.2L408.0 1140.3L409.4 1145.5L410.9 1146.9L412.3 1149.9L413.8 1141.6L415.2 1149.3L416.7 1152.5L418.1 1153.1L419.6 1145.8L421.0 1141.7L422.5 1145.8L423.9 1151.9L425.4 1150.1L426.8 1141.6L428.3 1150.9L429.7 1147.2L431.2 1150.8L432.6 1151.1L434.1 1146.6L435.5 1150.8L437.0 1154.1L438.4 1155.8L439.9 1148.3L441.3 1152.5L442.8 1153.2L444.2 1150.8L445.7 1153.2L447.1 1154.0L448.6 1155.9L450.0 1159.4L451.5 1147.2L452.9 1158.8L454.4 1150.4L455.8 1158.7L457.3 1157.2L458.7 1157.3L460.2 1155.8L461.6 1148.3L463.1 1157.6L464.5 1157.6L466.0 1161.0L467.4 1153.4L468.9 1153.1L470.3 1162.6L471.8 1164.7L473.2 1162.5L474.7 1162.6L476.1 1161.1L477.6 1165.1L479.0 1159.1L480.5 1164.1L481.9 1162.0L483.4 1154.5L484.8 1164.1L486.3 1153.8L487.7 1163.0L489.2 1167.6L490.6 1164.5L492.1 1154.1L493.5 1154.0L495.0 1166.1L496.4 1156.5L497.9 1168.0L499.3 1162.4L500.8 1161.9L502.2 1168.3L503.7 1159.8L505.1 1152.7L506.6 1161.0L508.0 1169.0L509.5 1159.9L510.9 1166.5L512.4 1159.2L513.8 1170.1L515.3 1170.3L516.7 1171.6L518.2 1168.4L519.6 1170.6L521.1 1172.7L522.5 1170.6L524.0 1167.5L525.4 1165.8L526.9 1168.1L528.3 1173.0L529.8 1169.1L531.2 1172.0L532.7 1173.9L534.1 1165.1L535.6 1171.3L537.0 1168.3L538.5 1171.5L539.9 1174.0L541.4 1174.0L542.8 1173.5L544.3 1173.8L545.7 1164.5L547.2 1168.3L548.6 1172.7L550.1 1173.3L551.5 1172.4L553.0 1171.9L554.4 1175.0L555.9 1169.2L557.3 1178.3L558.8 1174.5L560.2 1168.3L561.7 1174.7L563.1 1172.2L564.6 1168.3L566.0 1169.6L567.5 1172.1L568.9 1158.9L570.4 1160.8L571.8 1171.5L573.3 1173.1L574.7 1162.2L576.2 1165.0L577.6 1171.9L579.1 1170.2L580.5 1170.0L582.0 1165.8L583.4 1160.9L584.9 1160.4L586.3 1153.5L587.8 1146.9L589.2 1144.4L590.7 1144.2L592.1 1135.3L593.6 1135.6L595.0 1133.8L596.5 1128.5L597.9 1121.8L599.4 1121.9L600.8 1112.9L602.3 1110.4L603.7 1103.2L605.2 1099.1L606.6 1093.3L608.1 1081.7L609.5 1068.8L611.0 1056.9L612.4 1044.6L613.9 1036.6L615.3 1029.1L616.8 1021.8L618.2 1012.3L619.7 1005.5L621.1 998.2L622.6 989.8L624.0 985.3L625.5 969.9L626.9 964.0L628.4 959.5L629.8 952.9L631.3 953.4L632.7 944.2L634.2 953.3L635.6 951.8L637.1 926.4L638.5 917.4L640.0 950.2L641.4 935.6L642.9 942.4L644.3 947.9L645.8 947.9L647.2 951.8L648.7 954.0L650.1 948.2L651.6 954.8L653.0 951.6L654.5 961.3L655.9 966.2L657.4 967.7L658.8 981.2L660.3 984.7L661.7 999.0L663.2 1004.8L664.6 1012.7L666.1 1019.5L667.5 1028.3L669.0 1037.3L670.4 1047.6L671.9 1065.3L673.3 1075.3L674.8 1079.5L676.2 1086.8L677.7 1092.9L679.1 1088.6L680.6 1096.5L682.0 1100.4L683.5 1108.2L684.9 1108.6L686.4 1116.5L687.8 1117.7L689.3 1124.0L690.7 1120.8L692.2 1128.1L693.6 1138.7L695.1 1135.8L696.5 1137.3L698.0 1148.5L699.4 1151.2L700.9 1156.3L702.3 1160.3L703.8 1165.0L705.2 1161.9L706.7 1165.7L708.1 1167.8L709.6 1168.6L711.0 1162.9L712.5 1163.6L713.9 1161.6L715.4 1163.0L716.8 1172.0L718.3 1171.7L719.7 1176.1L721.2 1173.0L722.6 1177.7L724.1 1176.7L725.5 1182.1L727.0 1179.6L728.4 1183.6L729.9 1183.5L731.3 1179.4L732.8 1186.3L734.2 1178.4L735.7 1178.4L737.1 1187.1L738.6 1179.7L740.0 1181.9L741.5 1187.5L742.9 1179.9L744.4 1186.2L745.8 1182.8L747.3 1183.8L748.7 1185.1L750.2 1190.0L751.6 1183.2L753.1 1191.1L754.5 1192.0L756.0 1187.6L757.4 1187.7L758.9 1191.1L760.3 1195.5L761.8 1189.2L763.2 1193.2L764.7 1185.1L766.1 1186.0L767.6 1189.9L769.0 1190.8L770.5 1192.0L771.9 1182.9L773.4 1190.2L774.8 1189.1L776.3 1195.1L777.7 1195.3L779.2 1195.6L780.6 1187.4L782.1 1197.7L783.5 1189.2L785.0 1193.5L786.4 1193.1L787.9 1196.4L789.3 1195.6L790.8 1191.8L792.2 1191.3L793.7 1191.7L795.1 1198.1L796.6 1198.2L798.0 1199.7L799.5 1195.1L800.9 1199.2L802.4 1194.9L803.8 1199.0L805.3 1198.4L806.7 1202.3L808.2 1202.2L809.6 1200.4L811.1 1198.8L812.5 1196.3L814.0 1202.9L815.4 1203.1L816.9 1201.0L818.3 1207.5L819.8 1202.0L821.2 1200.9L822.7 1204.6L824.1 1204.1L825.6 1204.9L827.0 1204.1L828.5 1205.2L829.9 1201.3L831.4 1200.9L832.8 1198.8L834.3 1207.1L835.7 1207.2L837.2 1206.8L838.6 1206.6L840.1 1206.1L841.5 1206.7L843.0 1208.3L844.4 1207.1L845.9 1210.1L847.3 1207.4L848.8 1207.9L850.2 1207.2L851.7 1209.7L853.1 1207.7L854.6 1208.0L856.0 1209.5L857.5 1207.5L858.9 1208.0L860.4 1209.0L861.8 1210.8L863.3 1210.2L864.7 1210.5L866.2 1207.4L867.6 1211.3L869.1 1211.1L870.5 1211.7L872.0 1212.6L873.4 1212.8L874.9 1210.0L876.3 1209.6L877.8 1212.4L879.2 1208.9L880.7 1212.1L882.1 1210.9L883.6 1212.9L885.0 1213.5L886.5 1214.3L887.9 1213.9L889.4 1213.9L890.8 1214.2L892.3 1214.1L893.7 1212.0L895.2 1211.5L896.6 1212.0L898.1 1212.9L899.5 1214.6L901.0 1214.9L902.4 1215.4L903.9 1214.6L905.3 1213.5L906.8 1215.4L908.2 1216.8L909.7 1215.4L911.1 1215.2L912.6 1214.3L914.0 1215.6L915.5 1213.8L916.9 1214.7L918.4 1213.8L919.8 1215.6L921.3 1215.2L922.7 1216.2L924.2 1214.0L925.6 1214.4L927.1 1212.2L928.5 1215.6L930.0 1215.6L931.4 1215.7L932.9 1216.7L934.3 1214.5L935.8 1215.0L937.2 1214.2L938.7 1215.4L940.1 1216.2L941.6 1216.2L943.0 1215.7L944.5 1216.7L945.9 1215.0L945.9 1217.7L116.5 1217.7Z" fill="#d14a3d" stroke="none"/>
<path d="M116.5 1213.6L118.0 1213.3L119.4 1211.9L120.9 1212.1L122.3 1214.4L123.8 1212.4L125.2 1213.0L126.7 1212.9L128.1 1213.2L129.6 1213.8L131.0 1213.1L132.5 1212.2L133.9 1213.6L135.4 1214.8L136.8 1213.8L138.3 1212.4L139.7 1216.2L141.2 1213.0L142.6 1214.1L144.1 1213.4L145.5 1214.6L147.0 1214.3L148.4 1212.7L149.9 1215.1L151.3 1214.6L152.8 1212.6L154.2 1213.0L155.7 1212.8L157.1 1215.2L158.6 1214.4L160.0 1214.4L161.5 1215.1L162.9 1215.5L164.4 1214.4L165.8 1214.6L167.3 1214.1L168.7 1214.1L170.2 1214.3L171.6 1213.9L173.1 1214.8L174.5 1215.2L176.0 1212.6L177.4 1214.8L178.9 1213.7L180.3 1213.8L181.8 1212.1L183.2 1211.2L184.7 1214.0L186.1 1213.3L187.6 1213.3L189.0 1213.8L190.5 1212.5L191.9 1214.3L193.4 1215.2L194.8 1214.9L196.3 1214.3L197.7 1213.8L199.2 1213.9L200.6 1213.4L202.1 1213.1L203.5 1212.6L205.0 1212.0L206.4 1216.7L207.9 1213.4L209.3 1213.1L210.8 1212.5L212.2 1210.6L213.7 1211.4L215.1 1209.1L216.6 1210.4L218.0 1208.3L219.5 1208.9L220.9 1209.1L222.4 1209.7L223.8 1207.4L225.3 1205.4L226.7 1201.9L228.2 1205.6L229.6 1206.8L231.1 1204.9L232.5 1203.3L234.0 1202.9L235.4 1202.5L236.9 1198.9L238.3 1200.1L239.8 1201.1L241.2 1199.7L242.7 1198.0L244.1 1198.5L245.6 1192.0L247.0 1197.8L248.5 1191.4L249.9 1191.1L251.4 1194.8L252.8 1192.3L254.3 1190.4L255.7 1191.9L257.2 1184.8L258.6 1190.2L260.1 1193.1L261.5 1185.9L263.0 1185.0L264.4 1183.0L265.9 1185.0L267.3 1184.0L268.8 1180.1L270.2 1175.0L271.7 1179.5L273.1 1179.0L274.6 1173.5L276.0 1184.5L277.5 1175.7L278.9 1177.2L280.4 1166.7L281.8 1170.8L283.3 1163.6L284.7 1168.6L286.2 1165.8L287.6 1154.2L289.1 1153.5L290.5 1157.3L292.0 1154.3L293.4 1162.9L294.9 1161.4L296.3 1160.9L297.8 1159.6L299.2 1164.3L300.7 1160.5L302.1 1160.3L303.6 1153.3L305.0 1157.0L306.5 1153.7L307.9 1151.8L309.4 1153.4L310.8 1141.9L312.3 1135.1L313.7 1147.3L315.2 1147.4L316.6 1143.4L318.1 1144.7L319.5 1147.3L321.0 1139.0L322.4 1144.0L323.9 1142.5L325.3 1146.7L326.8 1143.7L328.2 1137.1L329.7 1136.8L331.1 1135.5L332.6 1129.8L334.0 1128.2L335.5 1125.2L336.9 1137.1L338.4 1134.9L339.8 1135.2L341.3 1131.1L342.7 1132.3L344.2 1137.8L345.6 1138.6L347.1 1134.3L348.5 1134.6L350.0 1117.8L351.4 1133.9L352.9 1124.3L354.3 1123.8L355.8 1132.1L357.2 1120.0L358.7 1118.3L360.1 1133.3L361.6 1134.3L363.0 1126.3L364.5 1131.4L365.9 1133.9L367.4 1136.3L368.8 1123.0L370.3 1126.6L371.7 1131.3L373.2 1136.4L374.6 1133.6L376.1 1134.6L377.5 1137.0L379.0 1138.1L380.4 1137.5L381.9 1129.1L383.3 1136.4L384.8 1134.2L386.2 1133.7L387.7 1136.8L389.1 1133.1L390.6 1137.1L392.0 1137.7L393.5 1146.6L394.9 1135.0L396.4 1138.6L397.8 1136.1L399.3 1141.7L400.7 1143.4L402.2 1137.8L403.6 1146.6L405.1 1138.6L406.5 1141.2L408.0 1140.3L409.4 1145.5L410.9 1146.9L412.3 1149.9L413.8 1141.6L415.2 1149.3L416.7 1152.5L418.1 1153.1L419.6 1145.8L421.0 1141.7L422.5 1145.8L423.9 1151.9L425.4 1150.1L426.8 1141.6L428.3 1150.9L429.7 1147.2L431.2 1150.8L432.6 1151.1L434.1 1146.6L435.5 1150.8L437.0 1154.1L438.4 1155.8L439.9 1148.3L441.3 1152.5L442.8 1153.2L444.2 1150.8L445.7 1153.2L447.1 1154.0L448.6 1155.9L450.0 1159.4L451.5 1147.2L452.9 1158.8L454.4 1150.4L455.8 1158.7L457.3 1157.2L458.7 1157.3L460.2 1155.8L461.6 1148.3L463.1 1157.6L464.5 1157.6L466.0 1161.0L467.4 1153.4L468.9 1153.1L470.3 1162.6L471.8 1164.7L473.2 1162.5L474.7 1162.6L476.1 1161.1L477.6 1165.1L479.0 1159.1L480.5 1164.1L481.9 1162.0L483.4 1154.5L484.8 1164.1L486.3 1153.8L487.7 1163.0L489.2 1167.6L490.6 1164.5L492.1 1154.1L493.5 1154.0L495.0 1166.1L496.4 1156.5L497.9 1168.0L499.3 1162.4L500.8 1161.9L502.2 1168.3L503.7 1159.8L505.1 1152.7L506.6 1161.0L508.0 1169.0L509.5 1159.9L510.9 1166.5L512.4 1159.2L513.8 1170.1L515.3 1170.3L516.7 1171.6L518.2 1168.4L519.6 1170.6L521.1 1172.7L522.5 1170.6L524.0 1167.5L525.4 1165.8L526.9 1168.1L528.3 1173.0L529.8 1169.1L531.2 1172.0L532.7 1173.9L534.1 1165.1L535.6 1171.3L537.0 1168.3L538.5 1171.5L539.9 1174.0L541.4 1174.0L542.8 1173.5L544.3 1173.8L545.7 1164.5L547.2 1168.3L548.6 1172.7L550.1 1173.3L551.5 1172.4L553.0 1171.9L554.4 1175.0L555.9 1169.2L557.3 1178.3L558.8 1174.5L560.2 1168.3L561.7 1174.7L563.1 1172.2L564.6 1168.3L566.0 1169.6L567.5 1172.1L568.9 1158.9L570.4 1160.8L571.8 1171.5L573.3 1173.1L574.7 1162.2L576.2 1165.0L577.6 1171.9L579.1 1170.2L580.5 1170.0L582.0 1165.8L583.4 1160.9L584.9 1160.4L586.3 1153.5L587.8 1146.9L589.2 1144.4L590.7 1144.2L592.1 1135.3L593.6 1135.6L595.0 1133.8L596.5 1128.5L597.9 1121.8L599.4 1121.9L600.8 1112.9L602.3 1110.4L603.7 1103.2L605.2 1099.1L606.6 1093.3L608.1 1081.7L609.5 1068.8L611.0 1056.9L612.4 1044.6L613.9 1036.6L615.3 1029.1L616.8 1021.8L618.2 1012.3L619.7 1005.5L621.1 998.2L622.6 989.8L624.0 985.3L625.5 969.9L626.9 964.0L628.4 959.5L629.8 952.9L631.3 953.4L632.7 944.2L634.2 953.3L635.6 951.8L637.1 926.4L638.5 917.4L640.0 950.2L641.4 935.6L642.9 942.4L644.3 947.9L645.8 947.9L647.2 951.8L648.7 954.0L650.1 948.2L651.6 954.8L653.0 951.6L654.5 961.3L655.9 966.2L657.4 967.7L658.8 981.2L660.3 984.7L661.7 999.0L663.2 1004.8L664.6 1012.7L666.1 1019.5L667.5 1028.3L669.0 1037.3L670.4 1047.6L671.9 1065.3L673.3 1075.3L674.8 1079.5L676.2 1086.8L677.7 1092.9L679.1 1088.6L680.6 1096.5L682.0 1100.4L683.5 1108.2L684.9 1108.6L686.4 1116.5L687.8 1117.7L689.3 1124.0L690.7 1120.8L692.2 1128.1L693.6 1138.7L695.1 1135.8L696.5 1137.3L698.0 1148.5L699.4 1151.2L700.9 1156.3L702.3 1160.3L703.8 1165.0L705.2 1161.9L706.7 1165.7L708.1 1167.8L709.6 1168.6L711.0 1162.9L712.5 1163.6L713.9 1161.6L715.4 1163.0L716.8 1172.0L718.3 1171.7L719.7 1176.1L721.2 1173.0L722.6 1177.7L724.1 1176.7L725.5 1182.1L727.0 1179.6L728.4 1183.6L729.9 1183.5L731.3 1179.4L732.8 1186.3L734.2 1178.4L735.7 1178.4L737.1 1187.1L738.6 1179.7L740.0 1181.9L741.5 1187.5L742.9 1179.9L744.4 1186.2L745.8 1182.8L747.3 1183.8L748.7 1185.1L750.2 1190.0L751.6 1183.2L753.1 1191.1L754.5 1192.0L756.0 1187.6L757.4 1187.7L758.9 1191.1L760.3 1195.5L761.8 1189.2L763.2 1193.2L764.7 1185.1L766.1 1186.0L767.6 1189.9L769.0 1190.8L770.5 1192.0L771.9 1182.9L773.4 1190.2L774.8 1189.1L776.3 1195.1L777.7 1195.3L779.2 1195.6L780.6 1187.4L782.1 1197.7L783.5 1189.2L785.0 1193.5L786.4 1193.1L787.9 1196.4L789.3 1195.6L790.8 1191.8L792.2 1191.3L793.7 1191.7L795.1 1198.1L796.6 1198.2L798.0 1199.7L799.5 1195.1L800.9 1199.2L802.4 1194.9L803.8 1199.0L805.3 1198.4L806.7 1202.3L808.2 1202.2L809.6 1200.4L811.1 1198.8L812.5 1196.3L814.0 1202.9L815.4 1203.1L816.9 1201.0L818.3 1207.5L819.8 1202.0L821.2 1200.9L822.7 1204.6L824.1 1204.1L825.6 1204.9L827.0 1204.1L828.5 1205.2L829.9 1201.3L831.4 1200.9L832.8 1198.8L834.3 1207.1L835.7 1207.2L837.2 1206.8L838.6 1206.6L840.1 1206.1L841.5 1206.7L843.0 1208.3L844.4 1207.1L845.9 1210.1L847.3 1207.4L848.8 1207.9L850.2 1207.2L851.7 1209.7L853.1 1207.7L854.6 1208.0L856.0 1209.5L857.5 1207.5L858.9 1208.0L860.4 1209.0L861.8 1210.8L863.3 1210.2L864.7 1210.5L866.2 1207.4L867.6 1211.3L869.1 1211.1L870.5 1211.7L872.0 1212.6L873.4 1212.8L874.9 1210.0L876.3 1209.6L877.8 1212.4L879.2 1208.9L880.7 1212.1L882.1 1210.9L883.6 1212.9L885.0 1213.5L886.5 1214.3L887.9 1213.9L889.4 1213.9L890.8 1214.2L892.3 1214.1L893.7 1212.0L895.2 1211.5L896.6 1212.0L898.1 1212.9L899.5 1214.6L901.0 1214.9L902.4 1215.4L903.9 1214.6L905.3 1213.5L906.8 1215.4L908.2 1216.8L909.7 1215.4L911.1 1215.2L912.6 1214.3L914.0 1215.6L915.5 1213.8L916.9 1214.7L918.4 1213.8L919.8 1215.6L921.3 1215.2L922.7 1216.2L924.2 1214.0L925.6 1214.4L927.1 1212.2L928.5 1215.6L930.0 1215.6L931.4 1215.7L932.9 1216.7L934.3 1214.5L935.8 1215.0L937.2 1214.2L938.7 1215.4L940.1 1216.2L941.6 1216.2L943.0 1215.7L944.5 1216.7L945.9 1215.0" fill="none" stroke="#000" stroke-width="1.05" stroke-linejoin="miter"/>
<path d="M116.5 1176.4L118.0 1176.4L118.0 1178.9L119.5 1178.9L119.5 1175.9L121.0 1175.9L121.0 1175.2L122.5 1175.2L122.5 1173.2L124.0 1173.2L124.0 1176.2L125.5 1176.2L125.5 1181.4L127.0 1181.4L127.0 1179.8L128.5 1179.8L128.5 1183.1L130.0 1183.1L130.0 1181.5L131.5 1181.5L131.5 1182.8L133.0 1182.8L133.0 1182.1L134.5 1182.1L134.5 1175.7L136.0 1175.7L136.0 1184.6L137.5 1184.6L137.5 1183.5L139.0 1183.5L139.0 1183.5L140.5 1183.5L140.5 1175.9L142.0 1175.9L142.0 1175.8L143.5 1175.8L143.5 1178.1L145.0 1178.1L145.0 1179.0L146.5 1179.0L146.5 1181.1L148.0 1181.1L148.0 1179.2L149.5 1179.2L149.5 1180.4L151.0 1180.4L151.0 1175.2L152.5 1175.2L152.5 1177.8L154.0 1177.8L154.0 1177.1L155.5 1177.1L155.5 1171.9L157.0 1171.9L157.0 1179.8L158.5 1179.8L158.5 1174.1L160.0 1174.1L160.0 1175.2L161.5 1175.2L161.5 1166.9L163.0 1166.9L163.0 1165.1L164.5 1165.1L164.5 1165.3L166.0 1165.3L166.0 1164.9L167.5 1164.9L167.5 1166.7L169.0 1166.7L169.0 1164.0L170.5 1164.0L170.5 1159.8L172.0 1159.8L172.0 1156.5L173.5 1156.5L173.5 1157.2L175.0 1157.2L175.0 1163.8L176.5 1163.8L176.5 1153.7L178.0 1153.7L178.0 1157.2L179.5 1157.2L179.5 1156.7L181.0 1156.7L181.0 1146.8L182.5 1146.8L182.5 1152.5L184.0 1152.5L184.0 1157.1L185.5 1157.1L185.5 1141.6L187.0 1141.6L187.0 1146.7L188.5 1146.7L188.5 1145.1L190.0 1145.1L190.0 1140.2L191.5 1140.2L191.5 1142.4L193.0 1142.4L193.0 1138.0L194.5 1138.0L194.5 1130.6L196.0 1130.6L196.0 1136.3L197.5 1136.3L197.5 1133.8L199.0 1133.8L199.0 1134.5L200.5 1134.5L200.5 1135.8L202.0 1135.8L202.0 1128.9L203.5 1128.9L203.5 1126.3L205.0 1126.3L205.0 1118.0L206.5 1118.0L206.5 1125.5L208.0 1125.5L208.0 1118.0L209.5 1118.0L209.5 1117.0L211.0 1117.0L211.0 1111.4L212.5 1111.4L212.5 1111.0L214.0 1111.0L214.0 1111.4L215.5 1111.4L215.5 1118.6L217.0 1118.6L217.0 1099.9L218.5 1099.9L218.5 1100.5L220.0 1100.5L220.0 1109.8L221.5 1109.8L221.5 1116.3L223.0 1116.3L223.0 1110.4L224.5 1110.4L224.5 1094.7L226.0 1094.7L226.0 1092.3L227.5 1092.3L227.5 1104.4L229.0 1104.4L229.0 1097.3L230.5 1097.3L230.5 1093.2L232.0 1093.2L232.0 1101.5L233.5 1101.5L233.5 1102.9L235.0 1102.9L235.0 1097.5L236.5 1097.5L236.5 1098.6L238.0 1098.6L238.0 1099.8L239.5 1099.8L239.5 1106.2L241.0 1106.2L241.0 1099.3L242.5 1099.3L242.5 1099.6L244.0 1099.6L244.0 1100.8L245.5 1100.8L245.5 1088.7L247.0 1088.7L247.0 1107.3L248.5 1107.3L248.5 1104.1L250.0 1104.1L250.0 1100.3L251.5 1100.3L251.5 1083.5L253.0 1083.5L253.0 1090.7L254.5 1090.7L254.5 1098.8L256.0 1098.8L256.0 1081.1L257.5 1081.1L257.5 1090.5L259.0 1090.5L259.0 1097.9L260.5 1097.9L260.5 1083.0L262.0 1083.0L262.0 1067.7L263.5 1067.7L263.5 1094.9L265.0 1094.9L265.0 1091.4L266.5 1091.4L266.5 1095.1L268.0 1095.1L268.0 1095.9L269.5 1095.9L269.5 1091.4L271.0 1091.4L271.0 1096.8L272.5 1096.8L272.5 1088.1L274.0 1088.1L274.0 1091.6L275.5 1091.6L275.5 1100.3L277.0 1100.3L277.0 1099.7L278.5 1099.7L278.5 1097.2L280.0 1097.2L280.0 1108.2L281.5 1108.2L281.5 1112.5L283.0 1112.5L283.0 1103.7L284.5 1103.7L284.5 1098.8L286.0 1098.8L286.0 1106.9L287.5 1106.9L287.5 1107.4L289.0 1107.4L289.0 1107.2L290.5 1107.2L290.5 1117.7L292.0 1117.7L292.0 1103.3L293.5 1103.3L293.5 1116.9L295.0 1116.9L295.0 1103.0L296.5 1103.0L296.5 1110.1L298.0 1110.1L298.0 1118.1L299.5 1118.1L299.5 1123.5L301.0 1123.5L301.0 1125.5L302.5 1125.5L302.5 1124.2L304.0 1124.2L304.0 1124.2L305.5 1124.2L305.5 1125.4L307.0 1125.4L307.0 1128.8L308.5 1128.8L308.5 1126.0L310.0 1126.0L310.0 1129.8L311.5 1129.8L311.5 1132.8L313.0 1132.8L313.0 1131.6L314.5 1131.6L314.5 1136.7L316.0 1136.7L316.0 1137.3L317.5 1137.3L317.5 1146.7L319.0 1146.7L319.0 1137.6L320.5 1137.6L320.5 1133.3L322.0 1133.3L322.0 1133.1L323.5 1133.1L323.5 1134.4L325.0 1134.4L325.0 1138.9L326.5 1138.9L326.5 1131.8L328.0 1131.8L328.0 1135.9L329.5 1135.9L329.5 1144.2L331.0 1144.2L331.0 1122.1L332.5 1122.1L332.5 1130.9L334.0 1130.9L334.0 1139.2L335.5 1139.2L335.5 1142.6L337.0 1142.6L337.0 1145.3L338.5 1145.3L338.5 1143.2L340.0 1143.2L340.0 1149.4L341.5 1149.4L341.5 1148.5L343.0 1148.5L343.0 1145.6L344.5 1145.6L344.5 1160.5L346.0 1160.5L346.0 1151.6L347.5 1151.6L347.5 1147.0L349.0 1147.0L349.0 1149.0L350.5 1149.0L350.5 1148.1L352.0 1148.1L352.0 1148.7L353.5 1148.7L353.5 1135.7L355.0 1135.7L355.0 1146.2L356.5 1146.2L356.5 1153.5L358.0 1153.5L358.0 1143.6L359.5 1143.6L359.5 1149.3L361.0 1149.3L361.0 1154.6L362.5 1154.6L362.5 1154.6L364.0 1154.6L364.0 1158.1L365.5 1158.1L365.5 1143.7L367.0 1143.7L367.0 1150.9L368.5 1150.9L368.5 1151.8L370.0 1151.8L370.0 1157.1L371.5 1157.1L371.5 1160.1L373.0 1160.1L373.0 1143.9L374.5 1143.9L374.5 1161.7L376.0 1161.7L376.0 1150.2L377.5 1150.2L377.5 1159.7L379.0 1159.7L379.0 1149.7L380.5 1149.7L380.5 1157.1L382.0 1157.1L382.0 1161.5L383.5 1161.5L383.5 1155.3L385.0 1155.3L385.0 1157.1L386.5 1157.1L386.5 1160.3L388.0 1160.3L388.0 1157.8L389.5 1157.8L389.5 1157.2L391.0 1157.2L391.0 1164.9L392.5 1164.9L392.5 1163.2L394.0 1163.2L394.0 1157.8L395.5 1157.8L395.5 1172.1L397.0 1172.1L397.0 1156.2L398.5 1156.2L398.5 1166.1L400.0 1166.1L400.0 1162.1L401.5 1162.1L401.5 1164.4L403.0 1164.4L403.0 1166.7L404.5 1166.7L404.5 1164.6L406.0 1164.6L406.0 1166.2L407.5 1166.2L407.5 1156.7L409.0 1156.7L409.0 1156.1L410.5 1156.1L410.5 1164.5L412.0 1164.5L412.0 1157.0L413.5 1157.0L413.5 1156.6L415.0 1156.6L415.0 1154.9L416.5 1154.9L416.5 1167.0L418.0 1167.0L418.0 1165.0L419.5 1165.0L419.5 1168.3L421.0 1168.3L421.0 1158.2L422.5 1158.2L422.5 1162.4L424.0 1162.4L424.0 1157.3L425.5 1157.3L425.5 1165.3L427.0 1165.3L427.0 1168.7L428.5 1168.7L428.5 1157.9L430.0 1157.9L430.0 1168.3L431.5 1168.3L431.5 1165.7L433.0 1165.7L433.0 1161.1L434.5 1161.1L434.5 1153.8L436.0 1153.8L436.0 1168.8L437.5 1168.8L437.5 1162.9L439.0 1162.9L439.0 1161.2L440.5 1161.2L440.5 1165.9L442.0 1165.9L442.0 1166.3L443.5 1166.3L443.5 1171.2L445.0 1171.2L445.0 1161.0L446.5 1161.0L446.5 1170.4L448.0 1170.4L448.0 1172.1L449.5 1172.1L449.5 1172.3L451.0 1172.3L451.0 1165.4L452.5 1165.4L452.5 1162.7L454.0 1162.7L454.0 1169.8L455.5 1169.8L455.5 1165.7L457.0 1165.7L457.0 1165.4L458.5 1165.4L458.5 1170.5L460.0 1170.5L460.0 1163.4L461.5 1163.4L461.5 1155.0L463.0 1155.0L463.0 1163.1L464.5 1163.1L464.5 1157.1L466.0 1157.1L466.0 1168.5L467.5 1168.5L467.5 1166.5L469.0 1166.5L469.0 1162.7L470.5 1162.7L470.5 1165.4L472.0 1165.4L472.0 1169.0L473.5 1169.0L473.5 1166.0L475.0 1166.0L475.0 1171.4L476.5 1171.4L476.5 1165.7L478.0 1165.7L478.0 1170.4L479.5 1170.4L479.5 1172.4L481.0 1172.4L481.0 1173.1L482.5 1173.1L482.5 1163.8L484.0 1163.8L484.0 1170.3L485.5 1170.3L485.5 1159.1L487.0 1159.1L487.0 1162.5L488.5 1162.5L488.5 1159.1L490.0 1159.1L490.0 1171.7L491.5 1171.7L491.5 1162.4L493.0 1162.4L493.0 1167.5L494.5 1167.5L494.5 1167.0L496.0 1167.0L496.0 1167.8L497.5 1167.8L497.5 1165.7L499.0 1165.7L499.0 1169.3L500.5 1169.3L500.5 1176.0L502.0 1176.0L502.0 1169.2L503.5 1169.2L503.5 1171.4L505.0 1171.4L505.0 1173.6L506.5 1173.6L506.5 1169.1L508.0 1169.1L508.0 1165.2L509.5 1165.2L509.5 1168.3L511.0 1168.3L511.0 1175.1L512.5 1175.1L512.5 1164.6L514.0 1164.6L514.0 1169.0L515.5 1169.0L515.5 1175.7L517.0 1175.7L517.0 1175.1L518.5 1175.1L518.5 1172.3L520.0 1172.3L520.0 1175.7L521.5 1175.7L521.5 1173.5L523.0 1173.5L523.0 1168.6L524.5 1168.6L524.5 1167.4L526.0 1167.4L526.0 1171.2L527.5 1171.2L527.5 1177.5L529.0 1177.5L529.0 1172.1L530.5 1172.1L530.5 1171.1L532.0 1171.1L532.0 1171.9L533.5 1171.9L533.5 1169.3L535.0 1169.3L535.0 1175.0L536.5 1175.0L536.5 1170.8L538.0 1170.8L538.0 1176.5L539.5 1176.5L539.5 1166.1L541.0 1166.1L541.0 1176.2L542.5 1176.2L542.5 1172.4L544.0 1172.4L544.0 1167.3L545.5 1167.3L545.5 1177.3L547.0 1177.3L547.0 1173.4L548.5 1173.4L548.5 1165.8L550.0 1165.8L550.0 1170.9L551.5 1170.9L551.5 1175.2L553.0 1175.2L553.0 1172.2L554.5 1172.2L554.5 1177.0L556.0 1177.0L556.0 1177.3L557.5 1177.3L557.5 1177.4L559.0 1177.4L559.0 1176.5L560.5 1176.5L560.5 1180.6L562.0 1180.6L562.0 1178.5L563.5 1178.5L563.5 1178.1L565.0 1178.1L565.0 1169.0L566.5 1169.0L566.5 1180.5L568.0 1180.5L568.0 1182.4L569.5 1182.4L569.5 1176.9L571.0 1176.9L571.0 1176.7L572.5 1176.7L572.5 1185.8L574.0 1185.8L574.0 1172.6L575.5 1172.6L575.5 1180.7L577.0 1180.7L577.0 1187.8L578.5 1187.8L578.5 1175.7L580.0 1175.7L580.0 1181.6L581.5 1181.6L581.5 1185.9L583.0 1185.9L583.0 1178.7L584.5 1178.7L584.5 1181.2L586.0 1181.2L586.0 1182.5L587.5 1182.5L587.5 1176.0L589.0 1176.0L589.0 1179.0L590.5 1179.0L590.5 1180.4L592.0 1180.4L592.0 1182.4L593.5 1182.4L593.5 1179.1L595.0 1179.1L595.0 1178.4L596.5 1178.4L596.5 1175.2L598.0 1175.2L598.0 1177.5L599.5 1177.5L599.5 1181.9L601.0 1181.9L601.0 1178.8L602.5 1178.8L602.5 1175.2L604.0 1175.2L604.0 1175.1L605.5 1175.1L605.5 1187.8L607.0 1187.8L607.0 1182.0L608.5 1182.0L608.5 1180.0L610.0 1180.0L610.0 1167.9L611.5 1167.9L611.5 1179.6L613.0 1179.6L613.0 1178.8L614.5 1178.8L614.5 1183.1L616.0 1183.1L616.0 1178.2L617.5 1178.2L617.5 1176.1L619.0 1176.1L619.0 1178.0L620.5 1178.0L620.5 1168.5L622.0 1168.5L622.0 1179.6L623.5 1179.6L623.5 1176.7L625.0 1176.7L625.0 1172.7L626.5 1172.7L626.5 1180.2L628.0 1180.2L628.0 1181.9L629.5 1181.9L629.5 1169.5L631.0 1169.5L631.0 1172.1L632.5 1172.1L632.5 1175.6L634.0 1175.6L634.0 1175.0L635.5 1175.0L635.5 1172.6L637.0 1172.6L637.0 1170.2L638.5 1170.2L638.5 1182.0L640.0 1182.0L640.0 1177.9L641.5 1177.9L641.5 1169.3L643.0 1169.3L643.0 1168.7L644.5 1168.7L644.5 1180.4L646.0 1180.4L646.0 1177.7L647.5 1177.7L647.5 1180.9L649.0 1180.9L649.0 1177.0L650.5 1177.0L650.5 1170.6L652.0 1170.6L652.0 1176.1L653.5 1176.1L653.5 1170.9L655.0 1170.9L655.0 1176.7L656.5 1176.7L656.5 1180.1L658.0 1180.1L658.0 1182.0L659.5 1182.0L659.5 1177.3L661.0 1177.3L661.0 1179.3L662.5 1179.3L662.5 1181.2L664.0 1181.2L664.0 1180.7L665.5 1180.7L665.5 1181.5L667.0 1181.5L667.0 1179.7L668.5 1179.7L668.5 1177.6L670.0 1177.6L670.0 1181.5L671.5 1181.5L671.5 1178.6L673.0 1178.6L673.0 1175.5L674.5 1175.5L674.5 1176.4L676.0 1176.4L676.0 1178.9L677.5 1178.9L677.5 1178.6L679.0 1178.6L679.0 1179.7L680.5 1179.7L680.5 1179.3L682.0 1179.3L682.0 1180.1L683.5 1180.1L683.5 1179.2L685.0 1179.2L685.0 1175.3L686.5 1175.3L686.5 1181.5L688.0 1181.5L688.0 1183.9L689.5 1183.9L689.5 1181.5L691.0 1181.5L691.0 1179.1L692.5 1179.1L692.5 1181.3L694.0 1181.3L694.0 1176.0L695.5 1176.0L695.5 1172.5L697.0 1172.5L697.0 1179.4L698.5 1179.4L698.5 1175.7L700.0 1175.7L700.0 1181.6L701.5 1181.6L701.5 1174.8L703.0 1174.8L703.0 1169.0L704.5 1169.0L704.5 1174.7L706.0 1174.7L706.0 1184.6L707.5 1184.6L707.5 1178.1L709.0 1178.1L709.0 1175.3L710.5 1175.3L710.5 1178.1L712.0 1178.1L712.0 1183.3L713.5 1183.3L713.5 1183.9L715.0 1183.9L715.0 1183.0L716.5 1183.0L716.5 1187.5L718.0 1187.5L718.0 1184.8L719.5 1184.8L719.5 1182.3L721.0 1182.3L721.0 1184.5L722.5 1184.5L722.5 1188.1L724.0 1188.1L724.0 1185.8L725.5 1185.8L725.5 1186.0L727.0 1186.0L727.0 1178.6L728.5 1178.6L728.5 1181.9L730.0 1181.9L730.0 1184.9L731.5 1184.9L731.5 1181.5L733.0 1181.5L733.0 1186.4L734.5 1186.4L734.5 1184.9L736.0 1184.9L736.0 1186.1L737.5 1186.1L737.5 1182.4L739.0 1182.4L739.0 1192.0L740.5 1192.0L740.5 1187.7L742.0 1187.7L742.0 1182.7L743.5 1182.7L743.5 1183.9L745.0 1183.9L745.0 1192.5L746.5 1192.5L746.5 1182.5L748.0 1182.5L748.0 1186.7L749.5 1186.7L749.5 1187.1L751.0 1187.1L751.0 1183.9L752.5 1183.9L752.5 1179.9L754.0 1179.9L754.0 1184.6L755.5 1184.6L755.5 1185.2L757.0 1185.2L757.0 1187.9L758.5 1187.9L758.5 1186.8L760.0 1186.8L760.0 1184.3L761.5 1184.3L761.5 1187.2L763.0 1187.2L763.0 1186.2L764.5 1186.2L764.5 1185.1L766.0 1185.1L766.0 1184.7L767.5 1184.7L767.5 1183.8L769.0 1183.8L769.0 1187.0L770.5 1187.0L770.5 1181.2L772.0 1181.2L772.0 1182.7L773.5 1182.7L773.5 1185.0L775.0 1185.0L775.0 1180.1L776.5 1180.1L776.5 1183.7L778.0 1183.7L778.0 1178.5L779.5 1178.5L779.5 1183.0L781.0 1183.0L781.0 1187.3L782.5 1187.3L782.5 1187.4L784.0 1187.4L784.0 1185.4L785.5 1185.4L785.5 1184.9L787.0 1184.9L787.0 1181.1L788.5 1181.1L788.5 1191.9L790.0 1191.9L790.0 1187.7L791.5 1187.7L791.5 1189.8L793.0 1189.8L793.0 1183.4L794.5 1183.4L794.5 1185.9L796.0 1185.9L796.0 1180.7L797.5 1180.7L797.5 1189.3L799.0 1189.3L799.0 1190.0L800.5 1190.0L800.5 1180.9L802.0 1180.9L802.0 1187.1L803.5 1187.1L803.5 1189.4L805.0 1189.4L805.0 1181.9L806.5 1181.9L806.5 1181.9L808.0 1181.9L808.0 1184.5L809.5 1184.5L809.5 1186.0L811.0 1186.0L811.0 1183.7L812.5 1183.7L812.5 1188.4L814.0 1188.4L814.0 1189.4L815.5 1189.4L815.5 1191.0L817.0 1191.0L817.0 1191.5L818.5 1191.5L818.5 1194.3L820.0 1194.3L820.0 1193.6L821.5 1193.6L821.5 1186.3L823.0 1186.3L823.0 1189.1L824.5 1189.1L824.5 1187.8L826.0 1187.8L826.0 1188.1L827.5 1188.1L827.5 1191.6L829.0 1191.6L829.0 1192.3L830.5 1192.3L830.5 1194.1L832.0 1194.1L832.0 1188.5L833.5 1188.5L833.5 1189.9L835.0 1189.9L835.0 1193.9L836.5 1193.9L836.5 1193.8L838.0 1193.8L838.0 1193.9L839.5 1193.9L839.5 1195.1L841.0 1195.1L841.0 1193.6L842.5 1193.6L842.5 1198.1L844.0 1198.1L844.0 1197.6L845.5 1197.6L845.5 1196.9L847.0 1196.9L847.0 1195.8L848.5 1195.8L848.5 1197.6L850.0 1197.6L850.0 1191.4L851.5 1191.4L851.5 1196.4L853.0 1196.4L853.0 1199.5L854.5 1199.5L854.5 1196.0L856.0 1196.0L856.0 1200.7L857.5 1200.7L857.5 1201.0L859.0 1201.0L859.0 1197.8L860.5 1197.8L860.5 1201.0L862.0 1201.0L862.0 1201.3L863.5 1201.3L863.5 1203.5L865.0 1203.5L865.0 1204.3L866.5 1204.3L866.5 1203.3L868.0 1203.3L868.0 1201.9L869.5 1201.9L869.5 1203.9L871.0 1203.9L871.0 1204.6L872.5 1204.6L872.5 1206.7L874.0 1206.7L874.0 1206.2L875.5 1206.2L875.5 1204.6L877.0 1204.6L877.0 1203.8L878.5 1203.8L878.5 1206.3L880.0 1206.3L880.0 1206.1L881.5 1206.1L881.5 1205.8L883.0 1205.8L883.0 1208.2L884.5 1208.2L884.5 1208.0L886.0 1208.0L886.0 1209.6L887.5 1209.6L887.5 1210.6L889.0 1210.6L889.0 1209.3L890.5 1209.3L890.5 1214.2L892.0 1214.2L892.0 1210.0L893.5 1210.0L893.5 1212.6L895.0 1212.6L895.0 1211.3L896.5 1211.3L896.5 1213.2L898.0 1213.2L898.0 1208.0L899.5 1208.0L899.5 1210.7L901.0 1210.7L901.0 1212.4L902.5 1212.4L902.5 1213.1L904.0 1213.1L904.0 1215.8L905.5 1215.8L905.5 1213.1L907.0 1213.1L907.0 1214.6L908.5 1214.6L908.5 1214.0L910.0 1214.0L910.0 1214.4L911.5 1214.4L911.5 1214.0L913.0 1214.0L913.0 1213.2L914.5 1213.2L914.5 1214.3L916.0 1214.3L916.0 1212.3L917.5 1212.3L917.5 1215.4L919.0 1215.4L919.0 1212.8L920.5 1212.8L920.5 1214.5L922.0 1214.5L922.0 1216.9L923.5 1216.9L923.5 1214.2L925.0 1214.2L925.0 1214.6L926.5 1214.6L926.5 1216.1L928.0 1216.1L928.0 1214.9L929.5 1214.9L929.5 1214.1L931.0 1214.1L931.0 1215.4L932.5 1215.4L932.5 1215.8L934.0 1215.8L934.0 1216.1L935.5 1216.1L935.5 1214.6L937.0 1214.6L937.0 1217.3L938.5 1217.3L938.5 1217.2L940.0 1217.2L940.0 1215.6L941.5 1215.6L941.5 1215.9L943.0 1215.9L943.0 1215.3L944.5 1215.3L944.5 1217.1L946.0 1217.1L946.0 1215.1" fill="none" stroke="#000" stroke-width="1.55" stroke-linejoin="miter"/>
<line x1="115.2" y1="912.95" x2="115.2" y2="1218.70" stroke="#000" stroke-width="2.4"/>
<line x1="104" y1="1217.70" x2="946" y2="1217.70" stroke="#000" stroke-width="2.2"/>
<line x1="104" y1="913.90" x2="115.2" y2="913.90" stroke="#000" stroke-width="1.8"/>
<line x1="104" y1="989.85" x2="115.2" y2="989.85" stroke="#000" stroke-width="1.8"/>
<line x1="104" y1="1065.80" x2="115.2" y2="1065.80" stroke="#000" stroke-width="1.8"/>
<line x1="104" y1="1141.75" x2="115.2" y2="1141.75" stroke="#000" stroke-width="1.8"/>
<line x1="115.00" y1="1217.70" x2="115.00" y2="1226.10" stroke="#000" stroke-width="2"/>
<line x1="238.15" y1="1217.70" x2="238.15" y2="1226.10" stroke="#000" stroke-width="2"/>
<line x1="310.19" y1="1217.70" x2="310.19" y2="1226.10" stroke="#000" stroke-width="2"/>
<line x1="361.30" y1="1217.70" x2="361.30" y2="1226.10" stroke="#000" stroke-width="2"/>
<line x1="400.95" y1="1217.70" x2="400.95" y2="1226.10" stroke="#000" stroke-width="2"/>
<line x1="433.34" y1="1217.70" x2="433.34" y2="1226.10" stroke="#000" stroke-width="2"/>
<line x1="460.73" y1="1217.70" x2="460.73" y2="1226.10" stroke="#000" stroke-width="2"/>
<line x1="484.45" y1="1217.70" x2="484.45" y2="1226.10" stroke="#000" stroke-width="2"/>
<line x1="505.38" y1="1217.70" x2="505.38" y2="1226.10" stroke="#000" stroke-width="2"/>
<line x1="524.10" y1="1217.70" x2="524.10" y2="1226.10" stroke="#000" stroke-width="2"/>
<line x1="647.25" y1="1217.70" x2="647.25" y2="1226.10" stroke="#000" stroke-width="2"/>
<line x1="719.29" y1="1217.70" x2="719.29" y2="1226.10" stroke="#000" stroke-width="2"/>
<line x1="770.40" y1="1217.70" x2="770.40" y2="1226.10" stroke="#000" stroke-width="2"/>
<line x1="810.05" y1="1217.70" x2="810.05" y2="1226.10" stroke="#000" stroke-width="2"/>
<line x1="842.44" y1="1217.70" x2="842.44" y2="1226.10" stroke="#000" stroke-width="2"/>
<line x1="869.83" y1="1217.70" x2="869.83" y2="1226.10" stroke="#000" stroke-width="2"/>
<line x1="893.55" y1="1217.70" x2="893.55" y2="1226.10" stroke="#000" stroke-width="2"/>
<line x1="914.48" y1="1217.70" x2="914.48" y2="1226.10" stroke="#000" stroke-width="2"/>
<line x1="933.20" y1="1217.70" x2="933.20" y2="1226.10" stroke="#000" stroke-width="2"/>
<text x="96.5" y="925.0" text-anchor="end">500</text>
<text x="96.5" y="1229.1" text-anchor="end">0</text>
<text x="524.5" y="872.1" text-anchor="middle">M64</text>
<text x="524.5" y="910.4" text-anchor="middle" style="font-size:32px">VWFSPD2BDDFVIII</text>
<text x="133.8" y="1063.6" style="font-size:32px">FVIII-deficient</text>
<text x="524.5" y="1270.9" text-anchor="middle">Human BDDFVIII</text>
<text transform="translate(26.7 1068.8) rotate(-90)" text-anchor="middle" style="font-size:31.8px">Platelet count</text>
</g>
</svg>
</body>
</html>
